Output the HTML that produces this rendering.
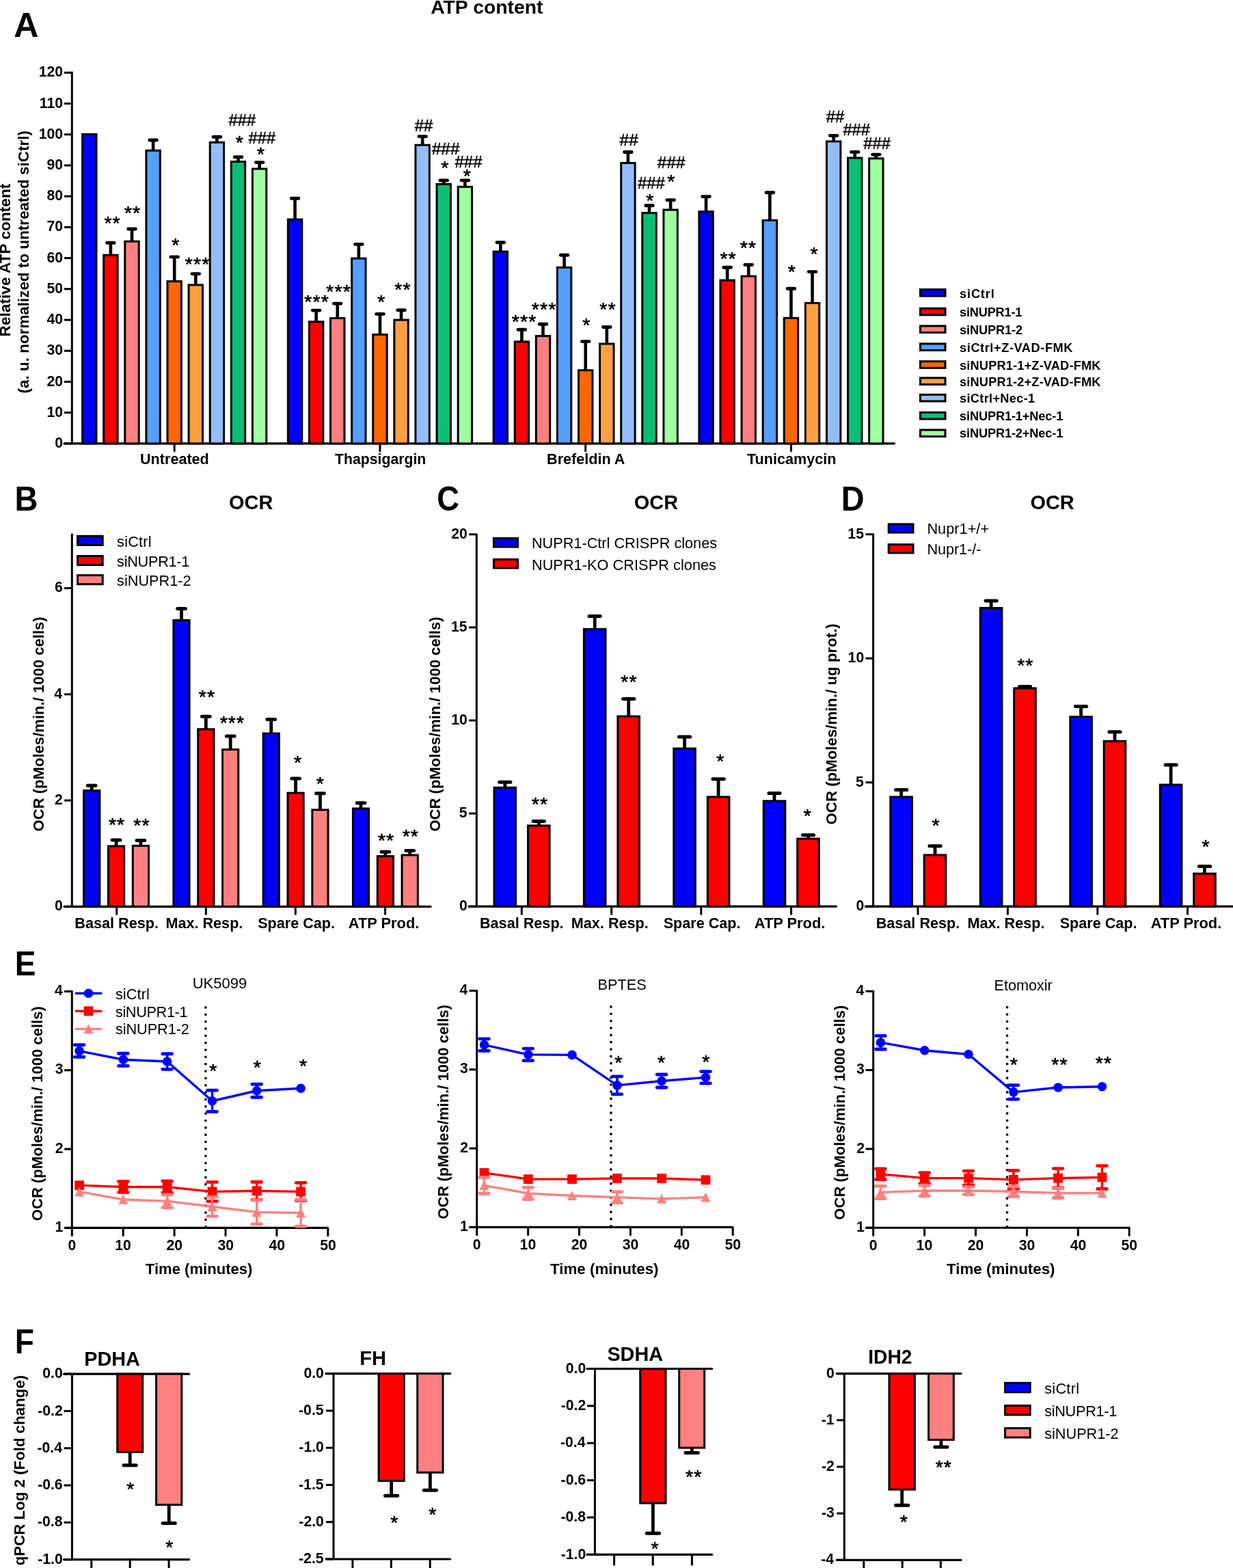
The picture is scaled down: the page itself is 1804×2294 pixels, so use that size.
<!DOCTYPE html>
<html><head><meta charset="utf-8"><title>Figure</title>
<style>html,body{margin:0;padding:0;background:#fff;}svg{display:block;}</style></head>
<body><svg xmlns="http://www.w3.org/2000/svg" width="1804" height="2294" viewBox="0 0 1804 2294" font-family="'Liberation Sans', Arial, Helvetica, sans-serif">
<rect x="0" y="0" width="1804" height="2294" fill="#fff"/>
<text x="630.19" y="20.35" font-size="28.2" font-weight="bold" textLength="164.31" lengthAdjust="spacingAndGlyphs" fill="#000">ATP content</text>
<text x="20.18" y="54.2" font-size="49.8" font-weight="bold" textLength="36.28" lengthAdjust="spacingAndGlyphs" fill="#000">A</text>
<line x1="105.3" y1="104.8" x2="105.3" y2="650.4" stroke="#000" stroke-width="3" stroke-linecap="butt"/>
<line x1="94" y1="648.9" x2="105.3" y2="648.9" stroke="#000" stroke-width="3" stroke-linecap="butt"/>
<text x="80.28" y="655" font-size="21.9" font-weight="bold" textLength="11.79" lengthAdjust="spacingAndGlyphs" fill="#000">0</text>
<line x1="94" y1="603.68" x2="105.3" y2="603.68" stroke="#000" stroke-width="3" stroke-linecap="butt"/>
<text x="68.52" y="609.78" font-size="21.9" font-weight="bold" textLength="23.58" lengthAdjust="spacingAndGlyphs" fill="#000">10</text>
<line x1="94" y1="558.47" x2="105.3" y2="558.47" stroke="#000" stroke-width="3" stroke-linecap="butt"/>
<text x="68.52" y="564.57" font-size="21.9" font-weight="bold" textLength="23.58" lengthAdjust="spacingAndGlyphs" fill="#000">20</text>
<line x1="94" y1="513.25" x2="105.3" y2="513.25" stroke="#000" stroke-width="3" stroke-linecap="butt"/>
<text x="68.52" y="519.35" font-size="21.9" font-weight="bold" textLength="23.58" lengthAdjust="spacingAndGlyphs" fill="#000">30</text>
<line x1="94" y1="468.03" x2="105.3" y2="468.03" stroke="#000" stroke-width="3" stroke-linecap="butt"/>
<text x="68.52" y="474.13" font-size="21.9" font-weight="bold" textLength="23.58" lengthAdjust="spacingAndGlyphs" fill="#000">40</text>
<line x1="94" y1="422.81" x2="105.3" y2="422.81" stroke="#000" stroke-width="3" stroke-linecap="butt"/>
<text x="68.52" y="428.91" font-size="21.9" font-weight="bold" textLength="23.58" lengthAdjust="spacingAndGlyphs" fill="#000">50</text>
<line x1="94" y1="377.6" x2="105.3" y2="377.6" stroke="#000" stroke-width="3" stroke-linecap="butt"/>
<text x="68.52" y="383.7" font-size="21.9" font-weight="bold" textLength="23.58" lengthAdjust="spacingAndGlyphs" fill="#000">60</text>
<line x1="94" y1="332.38" x2="105.3" y2="332.38" stroke="#000" stroke-width="3" stroke-linecap="butt"/>
<text x="68.52" y="338.48" font-size="21.9" font-weight="bold" textLength="23.58" lengthAdjust="spacingAndGlyphs" fill="#000">70</text>
<line x1="94" y1="287.16" x2="105.3" y2="287.16" stroke="#000" stroke-width="3" stroke-linecap="butt"/>
<text x="68.52" y="293.26" font-size="21.9" font-weight="bold" textLength="23.58" lengthAdjust="spacingAndGlyphs" fill="#000">80</text>
<line x1="94" y1="241.95" x2="105.3" y2="241.95" stroke="#000" stroke-width="3" stroke-linecap="butt"/>
<text x="68.52" y="248.05" font-size="21.9" font-weight="bold" textLength="23.58" lengthAdjust="spacingAndGlyphs" fill="#000">90</text>
<line x1="94" y1="196.73" x2="105.3" y2="196.73" stroke="#000" stroke-width="3" stroke-linecap="butt"/>
<text x="56.7" y="202.83" font-size="21.9" font-weight="bold" textLength="35.37" lengthAdjust="spacingAndGlyphs" fill="#000">100</text>
<line x1="94" y1="151.51" x2="105.3" y2="151.51" stroke="#000" stroke-width="3" stroke-linecap="butt"/>
<text x="57.86" y="157.61" font-size="21.9" font-weight="bold" textLength="34.2" lengthAdjust="spacingAndGlyphs" fill="#000">110</text>
<line x1="94" y1="106.3" x2="105.3" y2="106.3" stroke="#000" stroke-width="3" stroke-linecap="butt"/>
<text x="56.7" y="112.4" font-size="21.9" font-weight="bold" textLength="35.37" lengthAdjust="spacingAndGlyphs" fill="#000">120</text>
<line x1="94" y1="648.9" x2="1308.5" y2="648.9" stroke="#000" stroke-width="3.2" stroke-linecap="round"/>
<text x="15.2" y="492.43" font-size="22.6" font-weight="bold" textLength="223.82" lengthAdjust="spacingAndGlyphs" fill="#000" transform="rotate(-90 15.2 492.43)">Relative ATP content</text>
<text x="41.8" y="575.51" font-size="22.3" font-weight="bold" textLength="384.45" lengthAdjust="spacing" fill="#000" transform="rotate(-90 41.8 575.51)">(a. u. normalized to untreated siCtrl)</text>
<line x1="255.2" y1="648.9" x2="255.2" y2="659.7" stroke="#000" stroke-width="3" stroke-linecap="round"/>
<text x="205" y="679.2" font-size="21.6" font-weight="bold" textLength="100.8" lengthAdjust="spacingAndGlyphs" fill="#000">Untreated</text>
<rect x="120.6" y="196.4" width="20.4" height="452.5" fill="#0000FF" stroke="#000" stroke-width="3"/>
<rect x="151.7" y="373.2" width="20.4" height="275.7" fill="#FF0000" stroke="#000" stroke-width="3"/>
<line x1="161.9" y1="373.2" x2="161.9" y2="355.3" stroke="#000" stroke-width="4.6" stroke-linecap="butt"/>
<line x1="156.6" y1="355.3" x2="167.2" y2="355.3" stroke="#000" stroke-width="4.9" stroke-linecap="round"/>
<rect x="182.8" y="353.2" width="20.4" height="295.7" fill="#FF8080" stroke="#000" stroke-width="3"/>
<line x1="193" y1="353.2" x2="193" y2="335" stroke="#000" stroke-width="4.6" stroke-linecap="butt"/>
<line x1="187.7" y1="335" x2="198.3" y2="335" stroke="#000" stroke-width="4.9" stroke-linecap="round"/>
<rect x="213.9" y="220.2" width="20.4" height="428.7" fill="#559FFF" stroke="#000" stroke-width="3"/>
<line x1="224.1" y1="220.2" x2="224.1" y2="205" stroke="#000" stroke-width="4.6" stroke-linecap="butt"/>
<line x1="218.8" y1="205" x2="229.4" y2="205" stroke="#000" stroke-width="4.9" stroke-linecap="round"/>
<rect x="245" y="411.6" width="20.4" height="237.3" fill="#FF6600" stroke="#000" stroke-width="3"/>
<line x1="255.2" y1="411.6" x2="255.2" y2="375.9" stroke="#000" stroke-width="4.6" stroke-linecap="butt"/>
<line x1="249.9" y1="375.9" x2="260.5" y2="375.9" stroke="#000" stroke-width="4.9" stroke-linecap="round"/>
<rect x="276.1" y="416.9" width="20.4" height="232" fill="#FFA040" stroke="#000" stroke-width="3"/>
<line x1="286.3" y1="416.9" x2="286.3" y2="400.6" stroke="#000" stroke-width="4.6" stroke-linecap="butt"/>
<line x1="281" y1="400.6" x2="291.6" y2="400.6" stroke="#000" stroke-width="4.9" stroke-linecap="round"/>
<rect x="307.2" y="208.3" width="20.4" height="440.6" fill="#94BEFA" stroke="#000" stroke-width="3"/>
<line x1="317.4" y1="208.3" x2="317.4" y2="200.2" stroke="#000" stroke-width="4.6" stroke-linecap="butt"/>
<line x1="312.1" y1="200.2" x2="322.7" y2="200.2" stroke="#000" stroke-width="4.9" stroke-linecap="round"/>
<rect x="338.3" y="236.5" width="20.4" height="412.4" fill="#08BF76" stroke="#000" stroke-width="3"/>
<line x1="348.5" y1="236.5" x2="348.5" y2="229.7" stroke="#000" stroke-width="4.6" stroke-linecap="butt"/>
<line x1="343.2" y1="229.7" x2="353.8" y2="229.7" stroke="#000" stroke-width="4.9" stroke-linecap="round"/>
<rect x="369.4" y="247" width="20.4" height="401.9" fill="#A0FFA0" stroke="#000" stroke-width="3"/>
<line x1="379.6" y1="247" x2="379.6" y2="237.6" stroke="#000" stroke-width="4.6" stroke-linecap="butt"/>
<line x1="374.3" y1="237.6" x2="384.9" y2="237.6" stroke="#000" stroke-width="4.9" stroke-linecap="round"/>
<line x1="555.95" y1="648.9" x2="555.95" y2="659.7" stroke="#000" stroke-width="3" stroke-linecap="round"/>
<text x="490.09" y="679.2" font-size="21.6" font-weight="bold" textLength="133.21" lengthAdjust="spacingAndGlyphs" fill="#000">Thapsigargin</text>
<rect x="421.35" y="321" width="20.4" height="327.9" fill="#0000FF" stroke="#000" stroke-width="3"/>
<line x1="431.55" y1="321" x2="431.55" y2="290.2" stroke="#000" stroke-width="4.6" stroke-linecap="butt"/>
<line x1="426.25" y1="290.2" x2="436.85" y2="290.2" stroke="#000" stroke-width="4.9" stroke-linecap="round"/>
<rect x="452.45" y="470.7" width="20.4" height="178.2" fill="#FF0000" stroke="#000" stroke-width="3"/>
<line x1="462.65" y1="470.7" x2="462.65" y2="454.1" stroke="#000" stroke-width="4.6" stroke-linecap="butt"/>
<line x1="457.35" y1="454.1" x2="467.95" y2="454.1" stroke="#000" stroke-width="4.9" stroke-linecap="round"/>
<rect x="483.55" y="465.5" width="20.4" height="183.4" fill="#FF8080" stroke="#000" stroke-width="3"/>
<line x1="493.75" y1="465.5" x2="493.75" y2="444.1" stroke="#000" stroke-width="4.6" stroke-linecap="butt"/>
<line x1="488.45" y1="444.1" x2="499.05" y2="444.1" stroke="#000" stroke-width="4.9" stroke-linecap="round"/>
<rect x="514.65" y="378.1" width="20.4" height="270.8" fill="#559FFF" stroke="#000" stroke-width="3"/>
<line x1="524.85" y1="378.1" x2="524.85" y2="357.4" stroke="#000" stroke-width="4.6" stroke-linecap="butt"/>
<line x1="519.55" y1="357.4" x2="530.15" y2="357.4" stroke="#000" stroke-width="4.9" stroke-linecap="round"/>
<rect x="545.75" y="489.5" width="20.4" height="159.4" fill="#FF6600" stroke="#000" stroke-width="3"/>
<line x1="555.95" y1="489.5" x2="555.95" y2="459.4" stroke="#000" stroke-width="4.6" stroke-linecap="butt"/>
<line x1="550.65" y1="459.4" x2="561.25" y2="459.4" stroke="#000" stroke-width="4.9" stroke-linecap="round"/>
<rect x="576.85" y="468.1" width="20.4" height="180.8" fill="#FFA040" stroke="#000" stroke-width="3"/>
<line x1="587.05" y1="468.1" x2="587.05" y2="453.8" stroke="#000" stroke-width="4.6" stroke-linecap="butt"/>
<line x1="581.75" y1="453.8" x2="592.35" y2="453.8" stroke="#000" stroke-width="4.9" stroke-linecap="round"/>
<rect x="607.95" y="212.2" width="20.4" height="436.7" fill="#94BEFA" stroke="#000" stroke-width="3"/>
<line x1="618.15" y1="212.2" x2="618.15" y2="199.6" stroke="#000" stroke-width="4.6" stroke-linecap="butt"/>
<line x1="612.85" y1="199.6" x2="623.45" y2="199.6" stroke="#000" stroke-width="4.9" stroke-linecap="round"/>
<rect x="639.05" y="269.3" width="20.4" height="379.6" fill="#08BF76" stroke="#000" stroke-width="3"/>
<line x1="649.25" y1="269.3" x2="649.25" y2="263.9" stroke="#000" stroke-width="4.6" stroke-linecap="butt"/>
<line x1="643.95" y1="263.9" x2="654.55" y2="263.9" stroke="#000" stroke-width="4.9" stroke-linecap="round"/>
<rect x="670.15" y="273.3" width="20.4" height="375.6" fill="#A0FFA0" stroke="#000" stroke-width="3"/>
<line x1="680.35" y1="273.3" x2="680.35" y2="263.9" stroke="#000" stroke-width="4.6" stroke-linecap="butt"/>
<line x1="675.05" y1="263.9" x2="685.65" y2="263.9" stroke="#000" stroke-width="4.9" stroke-linecap="round"/>
<line x1="856.7" y1="648.9" x2="856.7" y2="659.7" stroke="#000" stroke-width="3" stroke-linecap="round"/>
<text x="800.04" y="679.2" font-size="21.6" font-weight="bold" textLength="114.44" lengthAdjust="spacingAndGlyphs" fill="#000">Brefeldin A</text>
<rect x="722.1" y="368.1" width="20.4" height="280.8" fill="#0000FF" stroke="#000" stroke-width="3"/>
<line x1="732.3" y1="368.1" x2="732.3" y2="354.8" stroke="#000" stroke-width="4.6" stroke-linecap="butt"/>
<line x1="727" y1="354.8" x2="737.6" y2="354.8" stroke="#000" stroke-width="4.9" stroke-linecap="round"/>
<rect x="753.2" y="499.9" width="20.4" height="149" fill="#FF0000" stroke="#000" stroke-width="3"/>
<line x1="763.4" y1="499.9" x2="763.4" y2="482.2" stroke="#000" stroke-width="4.6" stroke-linecap="butt"/>
<line x1="758.1" y1="482.2" x2="768.7" y2="482.2" stroke="#000" stroke-width="4.9" stroke-linecap="round"/>
<rect x="784.3" y="491.6" width="20.4" height="157.3" fill="#FF8080" stroke="#000" stroke-width="3"/>
<line x1="794.5" y1="491.6" x2="794.5" y2="474.3" stroke="#000" stroke-width="4.6" stroke-linecap="butt"/>
<line x1="789.2" y1="474.3" x2="799.8" y2="474.3" stroke="#000" stroke-width="4.9" stroke-linecap="round"/>
<rect x="815.4" y="391.3" width="20.4" height="257.6" fill="#559FFF" stroke="#000" stroke-width="3"/>
<line x1="825.6" y1="391.3" x2="825.6" y2="373.2" stroke="#000" stroke-width="4.6" stroke-linecap="butt"/>
<line x1="820.3" y1="373.2" x2="830.9" y2="373.2" stroke="#000" stroke-width="4.9" stroke-linecap="round"/>
<rect x="846.5" y="541.7" width="20.4" height="107.2" fill="#FF6600" stroke="#000" stroke-width="3"/>
<line x1="856.7" y1="541.7" x2="856.7" y2="499.6" stroke="#000" stroke-width="4.6" stroke-linecap="butt"/>
<line x1="851.4" y1="499.6" x2="862" y2="499.6" stroke="#000" stroke-width="4.9" stroke-linecap="round"/>
<rect x="877.6" y="503" width="20.4" height="145.9" fill="#FFA040" stroke="#000" stroke-width="3"/>
<line x1="887.8" y1="503" x2="887.8" y2="478.5" stroke="#000" stroke-width="4.6" stroke-linecap="butt"/>
<line x1="882.5" y1="478.5" x2="893.1" y2="478.5" stroke="#000" stroke-width="4.9" stroke-linecap="round"/>
<rect x="908.7" y="238.5" width="20.4" height="410.4" fill="#94BEFA" stroke="#000" stroke-width="3"/>
<line x1="918.9" y1="238.5" x2="918.9" y2="222.5" stroke="#000" stroke-width="4.6" stroke-linecap="butt"/>
<line x1="913.6" y1="222.5" x2="924.2" y2="222.5" stroke="#000" stroke-width="4.9" stroke-linecap="round"/>
<rect x="939.8" y="311.5" width="20.4" height="337.4" fill="#08BF76" stroke="#000" stroke-width="3"/>
<line x1="950" y1="311.5" x2="950" y2="300.8" stroke="#000" stroke-width="4.6" stroke-linecap="butt"/>
<line x1="944.7" y1="300.8" x2="955.3" y2="300.8" stroke="#000" stroke-width="4.9" stroke-linecap="round"/>
<rect x="970.9" y="307" width="20.4" height="341.9" fill="#A0FFA0" stroke="#000" stroke-width="3"/>
<line x1="981.1" y1="307" x2="981.1" y2="292.6" stroke="#000" stroke-width="4.6" stroke-linecap="butt"/>
<line x1="975.8" y1="292.6" x2="986.4" y2="292.6" stroke="#000" stroke-width="4.9" stroke-linecap="round"/>
<line x1="1157.45" y1="648.9" x2="1157.45" y2="659.7" stroke="#000" stroke-width="3" stroke-linecap="round"/>
<text x="1092.98" y="679.2" font-size="21.6" font-weight="bold" textLength="130.54" lengthAdjust="spacingAndGlyphs" fill="#000">Tunicamycin</text>
<rect x="1022.85" y="309.6" width="20.4" height="339.3" fill="#0000FF" stroke="#000" stroke-width="3"/>
<line x1="1033.05" y1="309.6" x2="1033.05" y2="287.6" stroke="#000" stroke-width="4.6" stroke-linecap="butt"/>
<line x1="1027.75" y1="287.6" x2="1038.35" y2="287.6" stroke="#000" stroke-width="4.9" stroke-linecap="round"/>
<rect x="1053.95" y="410" width="20.4" height="238.9" fill="#FF0000" stroke="#000" stroke-width="3"/>
<line x1="1064.15" y1="410" x2="1064.15" y2="391.2" stroke="#000" stroke-width="4.6" stroke-linecap="butt"/>
<line x1="1058.85" y1="391.2" x2="1069.45" y2="391.2" stroke="#000" stroke-width="4.9" stroke-linecap="round"/>
<rect x="1085.05" y="404.1" width="20.4" height="244.8" fill="#FF8080" stroke="#000" stroke-width="3"/>
<line x1="1095.25" y1="404.1" x2="1095.25" y2="387.4" stroke="#000" stroke-width="4.6" stroke-linecap="butt"/>
<line x1="1089.95" y1="387.4" x2="1100.55" y2="387.4" stroke="#000" stroke-width="4.9" stroke-linecap="round"/>
<rect x="1116.15" y="322.3" width="20.4" height="326.6" fill="#559FFF" stroke="#000" stroke-width="3"/>
<line x1="1126.35" y1="322.3" x2="1126.35" y2="281.8" stroke="#000" stroke-width="4.6" stroke-linecap="butt"/>
<line x1="1121.05" y1="281.8" x2="1131.65" y2="281.8" stroke="#000" stroke-width="4.9" stroke-linecap="round"/>
<rect x="1147.25" y="465.3" width="20.4" height="183.6" fill="#FF6600" stroke="#000" stroke-width="3"/>
<line x1="1157.45" y1="465.3" x2="1157.45" y2="422.2" stroke="#000" stroke-width="4.6" stroke-linecap="butt"/>
<line x1="1152.15" y1="422.2" x2="1162.75" y2="422.2" stroke="#000" stroke-width="4.9" stroke-linecap="round"/>
<rect x="1178.35" y="443.4" width="20.4" height="205.5" fill="#FFA040" stroke="#000" stroke-width="3"/>
<line x1="1188.55" y1="443.4" x2="1188.55" y2="397.6" stroke="#000" stroke-width="4.6" stroke-linecap="butt"/>
<line x1="1183.25" y1="397.6" x2="1193.85" y2="397.6" stroke="#000" stroke-width="4.9" stroke-linecap="round"/>
<rect x="1209.45" y="206.9" width="20.4" height="442" fill="#94BEFA" stroke="#000" stroke-width="3"/>
<line x1="1219.65" y1="206.9" x2="1219.65" y2="198.4" stroke="#000" stroke-width="4.6" stroke-linecap="butt"/>
<line x1="1214.35" y1="198.4" x2="1224.95" y2="198.4" stroke="#000" stroke-width="4.9" stroke-linecap="round"/>
<rect x="1240.55" y="231" width="20.4" height="417.9" fill="#08BF76" stroke="#000" stroke-width="3"/>
<line x1="1250.75" y1="231" x2="1250.75" y2="222.4" stroke="#000" stroke-width="4.6" stroke-linecap="butt"/>
<line x1="1245.45" y1="222.4" x2="1256.05" y2="222.4" stroke="#000" stroke-width="4.9" stroke-linecap="round"/>
<rect x="1271.65" y="231.8" width="20.4" height="417.1" fill="#A0FFA0" stroke="#000" stroke-width="3"/>
<line x1="1281.85" y1="231.8" x2="1281.85" y2="226.1" stroke="#000" stroke-width="4.6" stroke-linecap="butt"/>
<line x1="1276.55" y1="226.1" x2="1287.15" y2="226.1" stroke="#000" stroke-width="4.9" stroke-linecap="round"/>
<text x="152.45" y="335.69" font-size="28.5" textLength="23.25" lengthAdjust="spacing" fill="#000" stroke="#000" stroke-width="0.6" stroke-linejoin="round">**</text>
<text x="181.95" y="321.29" font-size="28.5" textLength="23.25" lengthAdjust="spacing" fill="#000" stroke="#000" stroke-width="0.6" stroke-linejoin="round">**</text>
<text x="251.35" y="368.29" font-size="28.5" textLength="11.07" lengthAdjust="spacing" fill="#000" stroke="#000" stroke-width="0.6" stroke-linejoin="round">*</text>
<text x="270.75" y="395.99" font-size="28.5" textLength="35.5" lengthAdjust="spacing" fill="#000" stroke="#000" stroke-width="0.6" stroke-linejoin="round">***</text>
<text x="344.85" y="218.49" font-size="28.5" textLength="11.07" lengthAdjust="spacing" fill="#000" stroke="#000" stroke-width="0.6" stroke-linejoin="round">*</text>
<text x="375.95" y="235.09" font-size="28.5" textLength="11.07" lengthAdjust="spacing" fill="#000" stroke="#000" stroke-width="0.6" stroke-linejoin="round">*</text>
<text x="445.25" y="450.59" font-size="28.5" textLength="35.5" lengthAdjust="spacing" fill="#000" stroke="#000" stroke-width="0.6" stroke-linejoin="round">***</text>
<text x="477.25" y="436.09" font-size="28.5" textLength="35.5" lengthAdjust="spacing" fill="#000" stroke="#000" stroke-width="0.6" stroke-linejoin="round">***</text>
<text x="552.35" y="450.59" font-size="28.5" textLength="11.07" lengthAdjust="spacing" fill="#000" stroke="#000" stroke-width="0.6" stroke-linejoin="round">*</text>
<text x="577.35" y="432.99" font-size="28.5" textLength="23.25" lengthAdjust="spacing" fill="#000" stroke="#000" stroke-width="0.6" stroke-linejoin="round">**</text>
<text x="645.25" y="255.29" font-size="28.5" textLength="11.07" lengthAdjust="spacing" fill="#000" stroke="#000" stroke-width="0.6" stroke-linejoin="round">*</text>
<text x="677.65" y="267.09" font-size="28.5" textLength="11.07" lengthAdjust="spacing" fill="#000" stroke="#000" stroke-width="0.6" stroke-linejoin="round">*</text>
<text x="748.75" y="480.19" font-size="28.5" textLength="35.5" lengthAdjust="spacing" fill="#000" stroke="#000" stroke-width="0.6" stroke-linejoin="round">***</text>
<text x="777.75" y="461.79" font-size="28.5" textLength="35.5" lengthAdjust="spacing" fill="#000" stroke="#000" stroke-width="0.6" stroke-linejoin="round">***</text>
<text x="852.35" y="484.89" font-size="28.5" textLength="11.07" lengthAdjust="spacing" fill="#000" stroke="#000" stroke-width="0.6" stroke-linejoin="round">*</text>
<text x="877.35" y="462.29" font-size="28.5" textLength="23.25" lengthAdjust="spacing" fill="#000" stroke="#000" stroke-width="0.6" stroke-linejoin="round">**</text>
<text x="945.15" y="302.69" font-size="28.5" textLength="11.07" lengthAdjust="spacing" fill="#000" stroke="#000" stroke-width="0.6" stroke-linejoin="round">*</text>
<text x="976.25" y="274.99" font-size="28.5" textLength="11.07" lengthAdjust="spacing" fill="#000" stroke="#000" stroke-width="0.6" stroke-linejoin="round">*</text>
<text x="1053.45" y="387.69" font-size="28.5" textLength="23.25" lengthAdjust="spacing" fill="#000" stroke="#000" stroke-width="0.6" stroke-linejoin="round">**</text>
<text x="1082.65" y="371.89" font-size="28.5" textLength="23.25" lengthAdjust="spacing" fill="#000" stroke="#000" stroke-width="0.6" stroke-linejoin="round">**</text>
<text x="1152.65" y="406.99" font-size="28.5" textLength="11.07" lengthAdjust="spacing" fill="#000" stroke="#000" stroke-width="0.6" stroke-linejoin="round">*</text>
<text x="1185.45" y="380.89" font-size="28.5" textLength="11.07" lengthAdjust="spacing" fill="#000" stroke="#000" stroke-width="0.6" stroke-linejoin="round">*</text>
<text x="334.48" y="183.8" font-size="24" textLength="39.7" lengthAdjust="spacingAndGlyphs" fill="#000" stroke="#000" stroke-width="0.5" stroke-linejoin="round">###</text>
<text x="363.48" y="210.2" font-size="24" textLength="39.7" lengthAdjust="spacingAndGlyphs" fill="#000" stroke="#000" stroke-width="0.5" stroke-linejoin="round">###</text>
<text x="606.68" y="191.6" font-size="24" textLength="26.64" lengthAdjust="spacingAndGlyphs" fill="#000" stroke="#000" stroke-width="0.5" stroke-linejoin="round">##</text>
<text x="631.68" y="225.8" font-size="24" textLength="41.11" lengthAdjust="spacingAndGlyphs" fill="#000" stroke="#000" stroke-width="0.5" stroke-linejoin="round">###</text>
<text x="665.48" y="245.1" font-size="24" textLength="40.21" lengthAdjust="spacingAndGlyphs" fill="#000" stroke="#000" stroke-width="0.5" stroke-linejoin="round">###</text>
<text x="906.58" y="212.7" font-size="24" textLength="27.34" lengthAdjust="spacingAndGlyphs" fill="#000" stroke="#000" stroke-width="0.5" stroke-linejoin="round">##</text>
<text x="932.88" y="275.9" font-size="24" textLength="39.8" lengthAdjust="spacingAndGlyphs" fill="#000" stroke="#000" stroke-width="0.5" stroke-linejoin="round">###</text>
<text x="961.88" y="246.4" font-size="24" textLength="40.51" lengthAdjust="spacingAndGlyphs" fill="#000" stroke="#000" stroke-width="0.5" stroke-linejoin="round">###</text>
<text x="1208.78" y="178.9" font-size="24" textLength="26.64" lengthAdjust="spacingAndGlyphs" fill="#000" stroke="#000" stroke-width="0.5" stroke-linejoin="round">##</text>
<text x="1233.38" y="198.2" font-size="24" textLength="39.7" lengthAdjust="spacingAndGlyphs" fill="#000" stroke="#000" stroke-width="0.5" stroke-linejoin="round">###</text>
<text x="1263.28" y="218.4" font-size="24" textLength="39.7" lengthAdjust="spacingAndGlyphs" fill="#000" stroke="#000" stroke-width="0.5" stroke-linejoin="round">###</text>
<rect x="1346.5" y="423.5" width="36.5" height="9.6" fill="#0000FF" stroke="#000" stroke-width="3"/>
<text x="1404.06" y="435.7" font-size="18.2" font-weight="bold" textLength="50.63" lengthAdjust="spacing" fill="#000">siCtrl</text>
<rect x="1346.5" y="451.2" width="36.5" height="9.6" fill="#FF0000" stroke="#000" stroke-width="3"/>
<text x="1404.06" y="462.7" font-size="18.2" font-weight="bold" textLength="91.35" lengthAdjust="spacing" fill="#000">siNUPR1-1</text>
<rect x="1346.5" y="476.9" width="36.5" height="9.6" fill="#FF8080" stroke="#000" stroke-width="3"/>
<text x="1404.06" y="488.7" font-size="18.2" font-weight="bold" textLength="92.13" lengthAdjust="spacing" fill="#000">siNUPR1-2</text>
<rect x="1346.5" y="502.9" width="36.5" height="9.6" fill="#559FFF" stroke="#000" stroke-width="3"/>
<text x="1404.06" y="514.5" font-size="18.2" font-weight="bold" textLength="165.42" lengthAdjust="spacing" fill="#000">siCtrl+Z-VAD-FMK</text>
<rect x="1346.5" y="528.7" width="36.5" height="9.6" fill="#FF6600" stroke="#000" stroke-width="3"/>
<text x="1404.06" y="540.5" font-size="18.2" font-weight="bold" textLength="206.31" lengthAdjust="spacing" fill="#000">siNUPR1-1+Z-VAD-FMK</text>
<rect x="1346.5" y="552.9" width="36.5" height="9.6" fill="#FFA040" stroke="#000" stroke-width="3"/>
<text x="1404.06" y="564.6" font-size="18.2" font-weight="bold" textLength="206.31" lengthAdjust="spacing" fill="#000">siNUPR1-2+Z-VAD-FMK</text>
<rect x="1346.5" y="577.4" width="36.5" height="9.6" fill="#94BEFA" stroke="#000" stroke-width="3"/>
<text x="1404.06" y="589.2" font-size="18.2" font-weight="bold" textLength="110.06" lengthAdjust="spacing" fill="#000">siCtrl+Nec-1</text>
<rect x="1346.5" y="603.4" width="36.5" height="9.6" fill="#08BF76" stroke="#000" stroke-width="3"/>
<text x="1404.06" y="614.6" font-size="18.2" font-weight="bold" textLength="151.25" lengthAdjust="spacing" fill="#000">siNUPR1-1+Nec-1</text>
<rect x="1346.5" y="629" width="36.5" height="9.6" fill="#A0FFA0" stroke="#000" stroke-width="3"/>
<text x="1404.06" y="640.3" font-size="18.2" font-weight="bold" textLength="151.25" lengthAdjust="spacing" fill="#000">siNUPR1-2+Nec-1</text>
<text x="21.49" y="747.1" font-size="49.5" font-weight="bold" textLength="33.97" lengthAdjust="spacingAndGlyphs" fill="#000">B</text>
<text x="335.04" y="745.4" font-size="29.3" font-weight="bold" textLength="64.3" lengthAdjust="spacingAndGlyphs" fill="#000">OCR</text>
<line x1="105.3" y1="781.7" x2="105.3" y2="1326.3" stroke="#000" stroke-width="3" stroke-linecap="round"/>
<line x1="94.1" y1="1326.3" x2="105.3" y2="1326.3" stroke="#000" stroke-width="3" stroke-linecap="butt"/>
<text x="80.08" y="1332.1" font-size="21.8" font-weight="bold" textLength="11.79" lengthAdjust="spacingAndGlyphs" fill="#000">0</text>
<line x1="94.1" y1="1171.04" x2="105.3" y2="1171.04" stroke="#000" stroke-width="3" stroke-linecap="butt"/>
<text x="80.03" y="1176.84" font-size="21.8" font-weight="bold" textLength="11.79" lengthAdjust="spacingAndGlyphs" fill="#000">2</text>
<line x1="94.1" y1="1015.78" x2="105.3" y2="1015.78" stroke="#000" stroke-width="3" stroke-linecap="butt"/>
<text x="79.34" y="1021.58" font-size="21.8" font-weight="bold" textLength="11.79" lengthAdjust="spacingAndGlyphs" fill="#000">4</text>
<line x1="94.1" y1="860.52" x2="105.3" y2="860.52" stroke="#000" stroke-width="3" stroke-linecap="butt"/>
<text x="79.98" y="866.32" font-size="21.8" font-weight="bold" textLength="11.79" lengthAdjust="spacingAndGlyphs" fill="#000">6</text>
<line x1="94.1" y1="1326.3" x2="630" y2="1326.3" stroke="#000" stroke-width="3.2" stroke-linecap="round"/>
<line x1="170.7" y1="1326.3" x2="170.7" y2="1337.3" stroke="#000" stroke-width="3" stroke-linecap="round"/>
<text x="109.34" y="1357.5" font-size="21.6" font-weight="bold" textLength="122.71" lengthAdjust="spacingAndGlyphs" fill="#000">Basal Resp.</text>
<line x1="301.3" y1="1326.3" x2="301.3" y2="1337.3" stroke="#000" stroke-width="3" stroke-linecap="round"/>
<text x="242.44" y="1357.5" font-size="21.6" font-weight="bold" textLength="112.9" lengthAdjust="spacingAndGlyphs" fill="#000">Max. Resp.</text>
<line x1="432.3" y1="1326.3" x2="432.3" y2="1337.3" stroke="#000" stroke-width="3" stroke-linecap="round"/>
<text x="377.15" y="1357.5" font-size="21.6" font-weight="bold" textLength="112.79" lengthAdjust="spacingAndGlyphs" fill="#000">Spare Cap.</text>
<line x1="563.6" y1="1326.3" x2="563.6" y2="1337.3" stroke="#000" stroke-width="3" stroke-linecap="round"/>
<text x="509.75" y="1357.5" font-size="21.6" font-weight="bold" textLength="103.65" lengthAdjust="spacingAndGlyphs" fill="#000">ATP Prod.</text>
<rect x="122.6" y="1156.6" width="23.2" height="169.7" fill="#0000FF" stroke="#000" stroke-width="3"/>
<line x1="134.2" y1="1156.6" x2="134.2" y2="1149.3" stroke="#000" stroke-width="4.8" stroke-linecap="butt"/>
<line x1="128.35" y1="1149.3" x2="140.05" y2="1149.3" stroke="#000" stroke-width="5" stroke-linecap="round"/>
<rect x="158.45" y="1237.9" width="23.2" height="88.4" fill="#FF0000" stroke="#000" stroke-width="3"/>
<line x1="170.05" y1="1237.9" x2="170.05" y2="1228.9" stroke="#000" stroke-width="4.8" stroke-linecap="butt"/>
<line x1="164.2" y1="1228.9" x2="175.9" y2="1228.9" stroke="#000" stroke-width="5" stroke-linecap="round"/>
<rect x="194.3" y="1237.4" width="23.2" height="88.9" fill="#FF8080" stroke="#000" stroke-width="3"/>
<line x1="205.9" y1="1237.4" x2="205.9" y2="1229.5" stroke="#000" stroke-width="4.8" stroke-linecap="butt"/>
<line x1="200.05" y1="1229.5" x2="211.75" y2="1229.5" stroke="#000" stroke-width="5" stroke-linecap="round"/>
<rect x="253.87" y="907.3" width="23.2" height="419" fill="#0000FF" stroke="#000" stroke-width="3"/>
<line x1="265.47" y1="907.3" x2="265.47" y2="890.6" stroke="#000" stroke-width="4.8" stroke-linecap="butt"/>
<line x1="259.62" y1="890.6" x2="271.32" y2="890.6" stroke="#000" stroke-width="5" stroke-linecap="round"/>
<rect x="289.72" y="1066.8" width="23.2" height="259.5" fill="#FF0000" stroke="#000" stroke-width="3"/>
<line x1="301.32" y1="1066.8" x2="301.32" y2="1048.3" stroke="#000" stroke-width="4.8" stroke-linecap="butt"/>
<line x1="295.47" y1="1048.3" x2="307.17" y2="1048.3" stroke="#000" stroke-width="5" stroke-linecap="round"/>
<rect x="325.57" y="1096.6" width="23.2" height="229.7" fill="#FF8080" stroke="#000" stroke-width="3"/>
<line x1="337.17" y1="1096.6" x2="337.17" y2="1077" stroke="#000" stroke-width="4.8" stroke-linecap="butt"/>
<line x1="331.32" y1="1077" x2="343.02" y2="1077" stroke="#000" stroke-width="5" stroke-linecap="round"/>
<rect x="385.14" y="1073" width="23.2" height="253.3" fill="#0000FF" stroke="#000" stroke-width="3"/>
<line x1="396.74" y1="1073" x2="396.74" y2="1052.6" stroke="#000" stroke-width="4.8" stroke-linecap="butt"/>
<line x1="390.89" y1="1052.6" x2="402.59" y2="1052.6" stroke="#000" stroke-width="5" stroke-linecap="round"/>
<rect x="420.99" y="1160.1" width="23.2" height="166.2" fill="#FF0000" stroke="#000" stroke-width="3"/>
<line x1="432.59" y1="1160.1" x2="432.59" y2="1139" stroke="#000" stroke-width="4.8" stroke-linecap="butt"/>
<line x1="426.74" y1="1139" x2="438.44" y2="1139" stroke="#000" stroke-width="5" stroke-linecap="round"/>
<rect x="456.84" y="1184.8" width="23.2" height="141.5" fill="#FF8080" stroke="#000" stroke-width="3"/>
<line x1="468.44" y1="1184.8" x2="468.44" y2="1160.8" stroke="#000" stroke-width="4.8" stroke-linecap="butt"/>
<line x1="462.59" y1="1160.8" x2="474.29" y2="1160.8" stroke="#000" stroke-width="5" stroke-linecap="round"/>
<rect x="516.41" y="1182.9" width="23.2" height="143.4" fill="#0000FF" stroke="#000" stroke-width="3"/>
<line x1="528.01" y1="1182.9" x2="528.01" y2="1174.7" stroke="#000" stroke-width="4.8" stroke-linecap="butt"/>
<line x1="522.16" y1="1174.7" x2="533.86" y2="1174.7" stroke="#000" stroke-width="5" stroke-linecap="round"/>
<rect x="552.26" y="1252.6" width="23.2" height="73.7" fill="#FF0000" stroke="#000" stroke-width="3"/>
<line x1="563.86" y1="1252.6" x2="563.86" y2="1246.2" stroke="#000" stroke-width="4.8" stroke-linecap="butt"/>
<line x1="558.01" y1="1246.2" x2="569.71" y2="1246.2" stroke="#000" stroke-width="5" stroke-linecap="round"/>
<rect x="588.11" y="1251" width="23.2" height="75.3" fill="#FF8080" stroke="#000" stroke-width="3"/>
<line x1="599.71" y1="1251" x2="599.71" y2="1244.5" stroke="#000" stroke-width="4.8" stroke-linecap="butt"/>
<line x1="593.86" y1="1244.5" x2="605.56" y2="1244.5" stroke="#000" stroke-width="5" stroke-linecap="round"/>
<text x="64.2" y="1216.48" font-size="22" font-weight="bold" textLength="314.18" lengthAdjust="spacingAndGlyphs" fill="#000" transform="rotate(-90 64.2 1216.48)">OCR (pMoles/min./ 1000 cells)</text>
<rect x="113.5" y="784.3" width="36.7" height="13.1" fill="#0000FF" stroke="#000" stroke-width="3"/>
<text x="171.1" y="799.7" font-size="21.7" textLength="50.46" lengthAdjust="spacing" fill="#000">siCtrl</text>
<rect x="113.5" y="813.5" width="36.7" height="13.1" fill="#FF0000" stroke="#000" stroke-width="3"/>
<text x="171.1" y="829" font-size="21.7" textLength="106.25" lengthAdjust="spacing" fill="#000">siNUPR1-1</text>
<rect x="113.5" y="841.6" width="36.7" height="13.1" fill="#FF8080" stroke="#000" stroke-width="3"/>
<text x="171.1" y="856.8" font-size="21.7" textLength="108.51" lengthAdjust="spacing" fill="#000">siNUPR1-2</text>
<text x="158.95" y="1215.59" font-size="28.5" textLength="23.25" lengthAdjust="spacing" fill="#000" stroke="#000" stroke-width="0.6" stroke-linejoin="round">**</text>
<text x="195.25" y="1217.09" font-size="28.5" textLength="23.25" lengthAdjust="spacing" fill="#000" stroke="#000" stroke-width="0.6" stroke-linejoin="round">**</text>
<text x="290.75" y="1028.59" font-size="28.5" textLength="23.25" lengthAdjust="spacing" fill="#000" stroke="#000" stroke-width="0.6" stroke-linejoin="round">**</text>
<text x="321.65" y="1066.59" font-size="28.5" textLength="35.5" lengthAdjust="spacing" fill="#000" stroke="#000" stroke-width="0.6" stroke-linejoin="round">***</text>
<text x="430.05" y="1124.59" font-size="28.5" textLength="11.07" lengthAdjust="spacing" fill="#000" stroke="#000" stroke-width="0.6" stroke-linejoin="round">*</text>
<text x="462.65" y="1155.59" font-size="28.5" textLength="11.07" lengthAdjust="spacing" fill="#000" stroke="#000" stroke-width="0.6" stroke-linejoin="round">*</text>
<text x="552.95" y="1238.79" font-size="28.5" textLength="23.25" lengthAdjust="spacing" fill="#000" stroke="#000" stroke-width="0.6" stroke-linejoin="round">**</text>
<text x="588.65" y="1232.99" font-size="28.5" textLength="23.25" lengthAdjust="spacing" fill="#000" stroke="#000" stroke-width="0.6" stroke-linejoin="round">**</text>
<text x="639.19" y="747.1" font-size="49.5" font-weight="bold" textLength="32.75" lengthAdjust="spacingAndGlyphs" fill="#000">C</text>
<text x="927.84" y="745.4" font-size="29.3" font-weight="bold" textLength="64.3" lengthAdjust="spacingAndGlyphs" fill="#000">OCR</text>
<line x1="697.3" y1="781.8" x2="697.3" y2="1326.2" stroke="#000" stroke-width="3" stroke-linecap="round"/>
<line x1="686.1" y1="1326.2" x2="697.3" y2="1326.2" stroke="#000" stroke-width="3" stroke-linecap="butt"/>
<text x="672.08" y="1332" font-size="21.8" font-weight="bold" textLength="11.79" lengthAdjust="spacingAndGlyphs" fill="#000">0</text>
<line x1="686.1" y1="1190.1" x2="697.3" y2="1190.1" stroke="#000" stroke-width="3" stroke-linecap="butt"/>
<text x="671.82" y="1195.9" font-size="21.8" font-weight="bold" textLength="11.79" lengthAdjust="spacingAndGlyphs" fill="#000">5</text>
<line x1="686.1" y1="1054" x2="697.3" y2="1054" stroke="#000" stroke-width="3" stroke-linecap="butt"/>
<text x="660.32" y="1059.8" font-size="21.8" font-weight="bold" textLength="23.58" lengthAdjust="spacingAndGlyphs" fill="#000">10</text>
<line x1="686.1" y1="917.9" x2="697.3" y2="917.9" stroke="#000" stroke-width="3" stroke-linecap="butt"/>
<text x="660.05" y="923.7" font-size="21.8" font-weight="bold" textLength="23.58" lengthAdjust="spacingAndGlyphs" fill="#000">15</text>
<line x1="686.1" y1="781.8" x2="697.3" y2="781.8" stroke="#000" stroke-width="3" stroke-linecap="butt"/>
<text x="660.32" y="787.6" font-size="21.8" font-weight="bold" textLength="23.58" lengthAdjust="spacingAndGlyphs" fill="#000">20</text>
<line x1="686.1" y1="1326.2" x2="1223.4" y2="1326.2" stroke="#000" stroke-width="3.2" stroke-linecap="round"/>
<line x1="763.3" y1="1326.2" x2="763.3" y2="1337.2" stroke="#000" stroke-width="3" stroke-linecap="round"/>
<text x="701.94" y="1357.5" font-size="21.6" font-weight="bold" textLength="122.71" lengthAdjust="spacingAndGlyphs" fill="#000">Basal Resp.</text>
<line x1="894.7" y1="1326.2" x2="894.7" y2="1337.2" stroke="#000" stroke-width="3" stroke-linecap="round"/>
<text x="835.84" y="1357.5" font-size="21.6" font-weight="bold" textLength="112.9" lengthAdjust="spacingAndGlyphs" fill="#000">Max. Resp.</text>
<line x1="1025.8" y1="1326.2" x2="1025.8" y2="1337.2" stroke="#000" stroke-width="3" stroke-linecap="round"/>
<text x="970.65" y="1357.5" font-size="21.6" font-weight="bold" textLength="112.79" lengthAdjust="spacingAndGlyphs" fill="#000">Spare Cap.</text>
<line x1="1157.6" y1="1326.2" x2="1157.6" y2="1337.2" stroke="#000" stroke-width="3" stroke-linecap="round"/>
<text x="1103.75" y="1357.5" font-size="21.6" font-weight="bold" textLength="103.65" lengthAdjust="spacingAndGlyphs" fill="#000">ATP Prod.</text>
<rect x="723" y="1152.3" width="31.6" height="173.9" fill="#0000FF" stroke="#000" stroke-width="3"/>
<line x1="738.8" y1="1152.3" x2="738.8" y2="1144.3" stroke="#000" stroke-width="4.8" stroke-linecap="butt"/>
<line x1="730.7" y1="1144.3" x2="746.9" y2="1144.3" stroke="#000" stroke-width="5" stroke-linecap="round"/>
<rect x="772.5" y="1207.9" width="31.6" height="118.3" fill="#FF0000" stroke="#000" stroke-width="3"/>
<line x1="788.3" y1="1207.9" x2="788.3" y2="1201.5" stroke="#000" stroke-width="4.8" stroke-linecap="butt"/>
<line x1="780.2" y1="1201.5" x2="796.4" y2="1201.5" stroke="#000" stroke-width="5" stroke-linecap="round"/>
<rect x="854.4" y="920.4" width="31.6" height="405.8" fill="#0000FF" stroke="#000" stroke-width="3"/>
<line x1="870.2" y1="920.4" x2="870.2" y2="901.5" stroke="#000" stroke-width="4.8" stroke-linecap="butt"/>
<line x1="862.1" y1="901.5" x2="878.3" y2="901.5" stroke="#000" stroke-width="5" stroke-linecap="round"/>
<rect x="903.9" y="1048" width="31.6" height="278.2" fill="#FF0000" stroke="#000" stroke-width="3"/>
<line x1="919.7" y1="1048" x2="919.7" y2="1022.5" stroke="#000" stroke-width="4.8" stroke-linecap="butt"/>
<line x1="911.6" y1="1022.5" x2="927.8" y2="1022.5" stroke="#000" stroke-width="5" stroke-linecap="round"/>
<rect x="985.8" y="1095.1" width="31.6" height="231.1" fill="#0000FF" stroke="#000" stroke-width="3"/>
<line x1="1001.6" y1="1095.1" x2="1001.6" y2="1078" stroke="#000" stroke-width="4.8" stroke-linecap="butt"/>
<line x1="993.5" y1="1078" x2="1009.7" y2="1078" stroke="#000" stroke-width="5" stroke-linecap="round"/>
<rect x="1035.3" y="1165.9" width="31.6" height="160.3" fill="#FF0000" stroke="#000" stroke-width="3"/>
<line x1="1051.1" y1="1165.9" x2="1051.1" y2="1139.7" stroke="#000" stroke-width="4.8" stroke-linecap="butt"/>
<line x1="1043" y1="1139.7" x2="1059.2" y2="1139.7" stroke="#000" stroke-width="5" stroke-linecap="round"/>
<rect x="1117.2" y="1171.9" width="31.6" height="154.3" fill="#0000FF" stroke="#000" stroke-width="3"/>
<line x1="1133" y1="1171.9" x2="1133" y2="1160.6" stroke="#000" stroke-width="4.8" stroke-linecap="butt"/>
<line x1="1124.9" y1="1160.6" x2="1141.1" y2="1160.6" stroke="#000" stroke-width="5" stroke-linecap="round"/>
<rect x="1166.7" y="1227.1" width="31.6" height="99.1" fill="#FF0000" stroke="#000" stroke-width="3"/>
<line x1="1182.5" y1="1227.1" x2="1182.5" y2="1221.7" stroke="#000" stroke-width="4.8" stroke-linecap="butt"/>
<line x1="1174.4" y1="1221.7" x2="1190.6" y2="1221.7" stroke="#000" stroke-width="5" stroke-linecap="round"/>
<text x="644.1" y="1216.58" font-size="22" font-weight="bold" textLength="314.18" lengthAdjust="spacingAndGlyphs" fill="#000" transform="rotate(-90 644.1 1216.58)">OCR (pMoles/min./ 1000 cells)</text>
<rect x="722.4" y="787.5" width="35.1" height="12.6" fill="#0000FF" stroke="#000" stroke-width="3"/>
<text x="777.91" y="802.4" font-size="21.7" textLength="271.16" lengthAdjust="spacing" fill="#000">NUPR1-Ctrl CRISPR clones</text>
<rect x="722.4" y="818.4" width="35.1" height="12.6" fill="#FF0000" stroke="#000" stroke-width="3"/>
<text x="777.91" y="833.6" font-size="21.7" textLength="270.05" lengthAdjust="spacing" fill="#000">NUPR1-KO CRISPR clones</text>
<text x="777.75" y="1185.79" font-size="28.5" textLength="23.25" lengthAdjust="spacing" fill="#000" stroke="#000" stroke-width="0.6" stroke-linejoin="round">**</text>
<text x="908.35" y="1006.59" font-size="28.5" textLength="23.25" lengthAdjust="spacing" fill="#000" stroke="#000" stroke-width="0.6" stroke-linejoin="round">**</text>
<text x="1048.15" y="1122.59" font-size="28.5" textLength="11.07" lengthAdjust="spacing" fill="#000" stroke="#000" stroke-width="0.6" stroke-linejoin="round">*</text>
<text x="1175.75" y="1202.89" font-size="28.5" textLength="11.07" lengthAdjust="spacing" fill="#000" stroke="#000" stroke-width="0.6" stroke-linejoin="round">*</text>
<text x="1230.74" y="747.1" font-size="49.5" font-weight="bold" textLength="33.84" lengthAdjust="spacingAndGlyphs" fill="#000">D</text>
<text x="1507.44" y="745.4" font-size="29.3" font-weight="bold" textLength="64.3" lengthAdjust="spacingAndGlyphs" fill="#000">OCR</text>
<line x1="1277.6" y1="781.7" x2="1277.6" y2="1326.2" stroke="#000" stroke-width="3" stroke-linecap="round"/>
<line x1="1266.4" y1="1326.2" x2="1277.6" y2="1326.2" stroke="#000" stroke-width="3" stroke-linecap="butt"/>
<text x="1252.38" y="1332" font-size="21.8" font-weight="bold" textLength="11.79" lengthAdjust="spacingAndGlyphs" fill="#000">0</text>
<line x1="1266.4" y1="1144.7" x2="1277.6" y2="1144.7" stroke="#000" stroke-width="3" stroke-linecap="butt"/>
<text x="1252.12" y="1150.5" font-size="21.8" font-weight="bold" textLength="11.79" lengthAdjust="spacingAndGlyphs" fill="#000">5</text>
<line x1="1266.4" y1="963.2" x2="1277.6" y2="963.2" stroke="#000" stroke-width="3" stroke-linecap="butt"/>
<text x="1240.62" y="969" font-size="21.8" font-weight="bold" textLength="23.58" lengthAdjust="spacingAndGlyphs" fill="#000">10</text>
<line x1="1266.4" y1="781.7" x2="1277.6" y2="781.7" stroke="#000" stroke-width="3" stroke-linecap="butt"/>
<text x="1240.35" y="787.5" font-size="21.8" font-weight="bold" textLength="23.58" lengthAdjust="spacingAndGlyphs" fill="#000">15</text>
<line x1="1266.4" y1="1326.2" x2="1810" y2="1326.2" stroke="#000" stroke-width="3.2" stroke-linecap="round"/>
<line x1="1343" y1="1326.2" x2="1343" y2="1337.2" stroke="#000" stroke-width="3" stroke-linecap="round"/>
<text x="1281.64" y="1357.5" font-size="21.6" font-weight="bold" textLength="122.71" lengthAdjust="spacingAndGlyphs" fill="#000">Basal Resp.</text>
<line x1="1474.4" y1="1326.2" x2="1474.4" y2="1337.2" stroke="#000" stroke-width="3" stroke-linecap="round"/>
<text x="1415.54" y="1357.5" font-size="21.6" font-weight="bold" textLength="112.9" lengthAdjust="spacingAndGlyphs" fill="#000">Max. Resp.</text>
<line x1="1605.8" y1="1326.2" x2="1605.8" y2="1337.2" stroke="#000" stroke-width="3" stroke-linecap="round"/>
<text x="1550.65" y="1357.5" font-size="21.6" font-weight="bold" textLength="112.79" lengthAdjust="spacingAndGlyphs" fill="#000">Spare Cap.</text>
<line x1="1737.5" y1="1326.2" x2="1737.5" y2="1337.2" stroke="#000" stroke-width="3" stroke-linecap="round"/>
<text x="1683.65" y="1357.5" font-size="21.6" font-weight="bold" textLength="103.65" lengthAdjust="spacingAndGlyphs" fill="#000">ATP Prod.</text>
<rect x="1302.8" y="1165.9" width="31.6" height="160.3" fill="#0000FF" stroke="#000" stroke-width="3"/>
<line x1="1318.6" y1="1165.9" x2="1318.6" y2="1155.4" stroke="#000" stroke-width="4.8" stroke-linecap="butt"/>
<line x1="1310.5" y1="1155.4" x2="1326.7" y2="1155.4" stroke="#000" stroke-width="5" stroke-linecap="round"/>
<rect x="1352.2" y="1250.9" width="31.6" height="75.3" fill="#FF0000" stroke="#000" stroke-width="3"/>
<line x1="1368" y1="1250.9" x2="1368" y2="1237.7" stroke="#000" stroke-width="4.8" stroke-linecap="butt"/>
<line x1="1359.9" y1="1237.7" x2="1376.1" y2="1237.7" stroke="#000" stroke-width="5" stroke-linecap="round"/>
<rect x="1434.3" y="889.5" width="31.6" height="436.7" fill="#0000FF" stroke="#000" stroke-width="3"/>
<line x1="1450.1" y1="889.5" x2="1450.1" y2="879" stroke="#000" stroke-width="4.8" stroke-linecap="butt"/>
<line x1="1442" y1="879" x2="1458.2" y2="879" stroke="#000" stroke-width="5" stroke-linecap="round"/>
<rect x="1483.7" y="1006.9" width="31.6" height="319.3" fill="#FF0000" stroke="#000" stroke-width="3"/>
<line x1="1499.5" y1="1006.9" x2="1499.5" y2="1004.4" stroke="#000" stroke-width="4.8" stroke-linecap="butt"/>
<line x1="1491.4" y1="1004.4" x2="1507.6" y2="1004.4" stroke="#000" stroke-width="5" stroke-linecap="round"/>
<rect x="1565.8" y="1048.7" width="31.6" height="277.5" fill="#0000FF" stroke="#000" stroke-width="3"/>
<line x1="1581.6" y1="1048.7" x2="1581.6" y2="1033.4" stroke="#000" stroke-width="4.8" stroke-linecap="butt"/>
<line x1="1573.5" y1="1033.4" x2="1589.7" y2="1033.4" stroke="#000" stroke-width="5" stroke-linecap="round"/>
<rect x="1615.2" y="1084.3" width="31.6" height="241.9" fill="#FF0000" stroke="#000" stroke-width="3"/>
<line x1="1631" y1="1084.3" x2="1631" y2="1070.8" stroke="#000" stroke-width="4.8" stroke-linecap="butt"/>
<line x1="1622.9" y1="1070.8" x2="1639.1" y2="1070.8" stroke="#000" stroke-width="5" stroke-linecap="round"/>
<rect x="1697.3" y="1148.1" width="31.6" height="178.1" fill="#0000FF" stroke="#000" stroke-width="3"/>
<line x1="1713.1" y1="1148.1" x2="1713.1" y2="1119" stroke="#000" stroke-width="4.8" stroke-linecap="butt"/>
<line x1="1705" y1="1119" x2="1721.2" y2="1119" stroke="#000" stroke-width="5" stroke-linecap="round"/>
<rect x="1746.7" y="1278.1" width="31.6" height="48.1" fill="#FF0000" stroke="#000" stroke-width="3"/>
<line x1="1762.5" y1="1278.1" x2="1762.5" y2="1267.5" stroke="#000" stroke-width="4.8" stroke-linecap="butt"/>
<line x1="1754.4" y1="1267.5" x2="1770.6" y2="1267.5" stroke="#000" stroke-width="5" stroke-linecap="round"/>
<text x="1224.1" y="1206.49" font-size="22" font-weight="bold" textLength="294.24" lengthAdjust="spacingAndGlyphs" fill="#000" transform="rotate(-90 1224.1 1206.49)">OCR (pMoles/min./ ug prot.)</text>
<rect x="1300.2" y="766.8" width="35.8" height="12.3" fill="#0000FF" stroke="#000" stroke-width="3"/>
<text x="1356.41" y="780.6" font-size="21.7" textLength="90.67" lengthAdjust="spacing" fill="#000">Nupr1+/+</text>
<rect x="1300.2" y="796.6" width="35.8" height="12.3" fill="#FF0000" stroke="#000" stroke-width="3"/>
<text x="1356.41" y="810.7" font-size="21.7" textLength="79.01" lengthAdjust="spacing" fill="#000">Nupr1-/-</text>
<text x="1363.55" y="1217.39" font-size="28.5" textLength="11.07" lengthAdjust="spacing" fill="#000" stroke="#000" stroke-width="0.6" stroke-linejoin="round">*</text>
<text x="1488.15" y="982.59" font-size="28.5" textLength="23.25" lengthAdjust="spacing" fill="#000" stroke="#000" stroke-width="0.6" stroke-linejoin="round">**</text>
<text x="1758.45" y="1248.29" font-size="28.5" textLength="11.07" lengthAdjust="spacing" fill="#000" stroke="#000" stroke-width="0.6" stroke-linejoin="round">*</text>
<text x="21.69" y="1427" font-size="49.5" font-weight="bold" textLength="30.73" lengthAdjust="spacingAndGlyphs" fill="#000">E</text>
<line x1="105.3" y1="1450.4" x2="105.3" y2="1796.45" stroke="#000" stroke-width="3" stroke-linecap="round"/>
<line x1="94.1" y1="1796.45" x2="105.3" y2="1796.45" stroke="#000" stroke-width="3" stroke-linecap="butt"/>
<text x="80.52" y="1802.05" font-size="21.8" font-weight="bold" textLength="11.79" lengthAdjust="spacingAndGlyphs" fill="#000">1</text>
<line x1="94.1" y1="1681.1" x2="105.3" y2="1681.1" stroke="#000" stroke-width="3" stroke-linecap="butt"/>
<text x="80.73" y="1686.7" font-size="21.8" font-weight="bold" textLength="11.79" lengthAdjust="spacingAndGlyphs" fill="#000">2</text>
<line x1="94.1" y1="1565.75" x2="105.3" y2="1565.75" stroke="#000" stroke-width="3" stroke-linecap="butt"/>
<text x="80.68" y="1571.35" font-size="21.8" font-weight="bold" textLength="11.79" lengthAdjust="spacingAndGlyphs" fill="#000">3</text>
<line x1="94.1" y1="1450.4" x2="105.3" y2="1450.4" stroke="#000" stroke-width="3" stroke-linecap="butt"/>
<text x="80.04" y="1456" font-size="21.8" font-weight="bold" textLength="11.79" lengthAdjust="spacingAndGlyphs" fill="#000">4</text>
<line x1="94.1" y1="1796.45" x2="479.8" y2="1796.45" stroke="#000" stroke-width="3.2" stroke-linecap="butt"/>
<line x1="105.3" y1="1796.45" x2="105.3" y2="1807.45" stroke="#000" stroke-width="3" stroke-linecap="round"/>
<text x="99.42" y="1829.35" font-size="21.8" font-weight="bold" textLength="11.79" lengthAdjust="spacingAndGlyphs" fill="#000">0</text>
<line x1="180.2" y1="1796.45" x2="180.2" y2="1807.45" stroke="#000" stroke-width="3" stroke-linecap="round"/>
<text x="168.2" y="1829.35" font-size="21.8" font-weight="bold" textLength="23.58" lengthAdjust="spacingAndGlyphs" fill="#000">10</text>
<line x1="255.1" y1="1796.45" x2="255.1" y2="1807.45" stroke="#000" stroke-width="3" stroke-linecap="round"/>
<text x="243.39" y="1829.35" font-size="21.8" font-weight="bold" textLength="23.58" lengthAdjust="spacingAndGlyphs" fill="#000">20</text>
<line x1="330" y1="1796.45" x2="330" y2="1807.45" stroke="#000" stroke-width="3" stroke-linecap="round"/>
<text x="318.42" y="1829.35" font-size="21.8" font-weight="bold" textLength="23.58" lengthAdjust="spacingAndGlyphs" fill="#000">30</text>
<line x1="404.9" y1="1796.45" x2="404.9" y2="1807.45" stroke="#000" stroke-width="3" stroke-linecap="round"/>
<text x="393.4" y="1829.35" font-size="21.8" font-weight="bold" textLength="23.58" lengthAdjust="spacingAndGlyphs" fill="#000">40</text>
<line x1="479.8" y1="1796.45" x2="479.8" y2="1807.45" stroke="#000" stroke-width="3" stroke-linecap="round"/>
<text x="468.14" y="1829.35" font-size="21.8" font-weight="bold" textLength="23.58" lengthAdjust="spacingAndGlyphs" fill="#000">50</text>
<text x="212.88" y="1863.5" font-size="22" font-weight="bold" textLength="156.56" lengthAdjust="spacingAndGlyphs" fill="#000">Time (minutes)</text>
<text x="62.3" y="1786.18" font-size="22" font-weight="bold" textLength="313.98" lengthAdjust="spacingAndGlyphs" fill="#000" transform="rotate(-90 62.3 1786.18)">OCR (pMoles/min./ 1000 cells)</text>
<text x="281.7" y="1445.6" font-size="21.7" textLength="79.42" lengthAdjust="spacingAndGlyphs" fill="#000">UK5099</text>
<line x1="300.9" y1="1473.9" x2="300.9" y2="1796.95" stroke="#000" stroke-width="3.7" stroke-dasharray="0 10.35" stroke-linecap="round"/>
<polyline points="116.09,1734.16 180.42,1736.47 244.61,1736.47 310.53,1743.39 375.69,1742.24 440.1,1743.39" fill="none" stroke="#FF0000" stroke-width="3.4" stroke-linejoin="round"/>
<rect x="109.19" y="1727.26" width="13.8" height="13.8" fill="#FF0000"/>
<line x1="180.42" y1="1728.47" x2="180.42" y2="1744.47" stroke="#FF0000" stroke-width="3.5" stroke-linecap="butt"/>
<line x1="173.52" y1="1728.47" x2="187.32" y2="1728.47" stroke="#FF0000" stroke-width="4.8" stroke-linecap="round"/>
<line x1="173.52" y1="1744.47" x2="187.32" y2="1744.47" stroke="#FF0000" stroke-width="4.8" stroke-linecap="round"/>
<rect x="173.52" y="1729.57" width="13.8" height="13.8" fill="#FF0000"/>
<line x1="244.61" y1="1727.97" x2="244.61" y2="1744.97" stroke="#FF0000" stroke-width="3.5" stroke-linecap="butt"/>
<line x1="237.71" y1="1727.97" x2="251.51" y2="1727.97" stroke="#FF0000" stroke-width="4.8" stroke-linecap="round"/>
<line x1="237.71" y1="1744.97" x2="251.51" y2="1744.97" stroke="#FF0000" stroke-width="4.8" stroke-linecap="round"/>
<rect x="237.71" y="1729.57" width="13.8" height="13.8" fill="#FF0000"/>
<line x1="310.53" y1="1729.39" x2="310.53" y2="1757.39" stroke="#FF0000" stroke-width="3.5" stroke-linecap="butt"/>
<line x1="303.63" y1="1729.39" x2="317.43" y2="1729.39" stroke="#FF0000" stroke-width="4.8" stroke-linecap="round"/>
<line x1="303.63" y1="1757.39" x2="317.43" y2="1757.39" stroke="#FF0000" stroke-width="4.8" stroke-linecap="round"/>
<rect x="303.63" y="1736.49" width="13.8" height="13.8" fill="#FF0000"/>
<line x1="375.69" y1="1729.24" x2="375.69" y2="1755.24" stroke="#FF0000" stroke-width="3.5" stroke-linecap="butt"/>
<line x1="368.79" y1="1729.24" x2="382.59" y2="1729.24" stroke="#FF0000" stroke-width="4.8" stroke-linecap="round"/>
<line x1="368.79" y1="1755.24" x2="382.59" y2="1755.24" stroke="#FF0000" stroke-width="4.8" stroke-linecap="round"/>
<rect x="368.79" y="1735.34" width="13.8" height="13.8" fill="#FF0000"/>
<line x1="440.1" y1="1730.39" x2="440.1" y2="1756.39" stroke="#FF0000" stroke-width="3.5" stroke-linecap="butt"/>
<line x1="433.2" y1="1730.39" x2="447" y2="1730.39" stroke="#FF0000" stroke-width="4.8" stroke-linecap="round"/>
<line x1="433.2" y1="1756.39" x2="447" y2="1756.39" stroke="#FF0000" stroke-width="4.8" stroke-linecap="round"/>
<rect x="433.2" y="1736.49" width="13.8" height="13.8" fill="#FF0000"/>
<polyline points="116.09,1743.39 180.42,1754.92 244.61,1757.23 310.53,1765.31 375.69,1773.38 440.1,1774.53" fill="none" stroke="#FF8080" stroke-width="3.4" stroke-linejoin="round"/>
<polygon points="116.09,1736.19 123.19,1750.19 108.99,1750.19" fill="#FF8080"/>
<polygon points="180.42,1747.72 187.52,1761.72 173.32,1761.72" fill="#FF8080"/>
<line x1="244.61" y1="1747.73" x2="244.61" y2="1766.73" stroke="#FF8080" stroke-width="3.5" stroke-linecap="butt"/>
<line x1="237.71" y1="1747.73" x2="251.51" y2="1747.73" stroke="#FF8080" stroke-width="4.8" stroke-linecap="round"/>
<line x1="237.71" y1="1766.73" x2="251.51" y2="1766.73" stroke="#FF8080" stroke-width="4.8" stroke-linecap="round"/>
<polygon points="244.61,1750.03 251.71,1764.03 237.51,1764.03" fill="#FF8080"/>
<line x1="310.53" y1="1751.31" x2="310.53" y2="1779.31" stroke="#FF8080" stroke-width="3.5" stroke-linecap="butt"/>
<line x1="303.63" y1="1751.31" x2="317.43" y2="1751.31" stroke="#FF8080" stroke-width="4.8" stroke-linecap="round"/>
<line x1="303.63" y1="1779.31" x2="317.43" y2="1779.31" stroke="#FF8080" stroke-width="4.8" stroke-linecap="round"/>
<polygon points="310.53,1758.11 317.63,1772.11 303.43,1772.11" fill="#FF8080"/>
<line x1="375.69" y1="1755.88" x2="375.69" y2="1790.88" stroke="#FF8080" stroke-width="3.5" stroke-linecap="butt"/>
<line x1="368.79" y1="1755.88" x2="382.59" y2="1755.88" stroke="#FF8080" stroke-width="4.8" stroke-linecap="round"/>
<line x1="368.79" y1="1790.88" x2="382.59" y2="1790.88" stroke="#FF8080" stroke-width="4.8" stroke-linecap="round"/>
<polygon points="375.69,1766.18 382.79,1780.18 368.59,1780.18" fill="#FF8080"/>
<line x1="440.1" y1="1755.03" x2="440.1" y2="1794.03" stroke="#FF8080" stroke-width="3.5" stroke-linecap="butt"/>
<line x1="433.2" y1="1755.03" x2="447" y2="1755.03" stroke="#FF8080" stroke-width="4.8" stroke-linecap="round"/>
<line x1="433.2" y1="1794.03" x2="447" y2="1794.03" stroke="#FF8080" stroke-width="4.8" stroke-linecap="round"/>
<polygon points="440.1,1767.33 447.2,1781.33 433,1781.33" fill="#FF8080"/>
<polyline points="116.09,1537.6 180.42,1550.29 244.61,1553.06 310.53,1610.74 375.69,1595.74 440.1,1592.28" fill="none" stroke="#0000FF" stroke-width="3.4" stroke-linejoin="round"/>
<line x1="116.09" y1="1528.75" x2="116.09" y2="1546.45" stroke="#0000FF" stroke-width="3.5" stroke-linecap="butt"/>
<line x1="109.19" y1="1528.75" x2="122.99" y2="1528.75" stroke="#0000FF" stroke-width="4.8" stroke-linecap="round"/>
<line x1="109.19" y1="1546.45" x2="122.99" y2="1546.45" stroke="#0000FF" stroke-width="4.8" stroke-linecap="round"/>
<circle cx="116.09" cy="1537.6" r="6.8" fill="#0000FF"/>
<line x1="180.42" y1="1541.24" x2="180.42" y2="1559.34" stroke="#0000FF" stroke-width="3.5" stroke-linecap="butt"/>
<line x1="173.52" y1="1541.24" x2="187.32" y2="1541.24" stroke="#0000FF" stroke-width="4.8" stroke-linecap="round"/>
<line x1="173.52" y1="1559.34" x2="187.32" y2="1559.34" stroke="#0000FF" stroke-width="4.8" stroke-linecap="round"/>
<circle cx="180.42" cy="1550.29" r="6.8" fill="#0000FF"/>
<line x1="244.61" y1="1541.76" x2="244.61" y2="1564.36" stroke="#0000FF" stroke-width="3.5" stroke-linecap="butt"/>
<line x1="237.71" y1="1541.76" x2="251.51" y2="1541.76" stroke="#0000FF" stroke-width="4.8" stroke-linecap="round"/>
<line x1="237.71" y1="1564.36" x2="251.51" y2="1564.36" stroke="#0000FF" stroke-width="4.8" stroke-linecap="round"/>
<circle cx="244.61" cy="1553.06" r="6.8" fill="#0000FF"/>
<line x1="310.53" y1="1595.14" x2="310.53" y2="1626.34" stroke="#0000FF" stroke-width="3.5" stroke-linecap="butt"/>
<line x1="303.63" y1="1595.14" x2="317.43" y2="1595.14" stroke="#0000FF" stroke-width="4.8" stroke-linecap="round"/>
<line x1="303.63" y1="1626.34" x2="317.43" y2="1626.34" stroke="#0000FF" stroke-width="4.8" stroke-linecap="round"/>
<circle cx="310.53" cy="1610.74" r="6.8" fill="#0000FF"/>
<line x1="375.69" y1="1586.24" x2="375.69" y2="1605.24" stroke="#0000FF" stroke-width="3.5" stroke-linecap="butt"/>
<line x1="368.79" y1="1586.24" x2="382.59" y2="1586.24" stroke="#0000FF" stroke-width="4.8" stroke-linecap="round"/>
<line x1="368.79" y1="1605.24" x2="382.59" y2="1605.24" stroke="#0000FF" stroke-width="4.8" stroke-linecap="round"/>
<circle cx="375.69" cy="1595.74" r="6.8" fill="#0000FF"/>
<circle cx="440.1" cy="1592.28" r="6.8" fill="#0000FF"/>
<text x="306.25" y="1576.49" font-size="28.5" textLength="11.07" lengthAdjust="spacing" fill="#000" stroke="#000" stroke-width="0.6" stroke-linejoin="round">*</text>
<text x="370.65" y="1570.59" font-size="28.5" textLength="11.07" lengthAdjust="spacing" fill="#000" stroke="#000" stroke-width="0.6" stroke-linejoin="round">*</text>
<text x="437.95" y="1569.09" font-size="28.5" textLength="11.07" lengthAdjust="spacing" fill="#000" stroke="#000" stroke-width="0.6" stroke-linejoin="round">*</text>
<line x1="111.2" y1="1453.3" x2="147.8" y2="1453.3" stroke="#0000FF" stroke-width="3.4" stroke-linecap="round"/>
<circle cx="129.5" cy="1453.3" r="6.8" fill="#0000FF"/>
<text x="168.9" y="1462.2" font-size="21.7" textLength="49.96" lengthAdjust="spacing" fill="#000">siCtrl</text>
<line x1="111.2" y1="1479.2" x2="147.8" y2="1479.2" stroke="#FF0000" stroke-width="3.4" stroke-linecap="round"/>
<rect x="122.6" y="1472.3" width="13.8" height="13.8" fill="#FF0000"/>
<text x="168.9" y="1487.8" font-size="21.7" textLength="105.65" lengthAdjust="spacing" fill="#000">siNUPR1-1</text>
<line x1="111.2" y1="1505.4" x2="147.8" y2="1505.4" stroke="#FF8080" stroke-width="3.4" stroke-linecap="round"/>
<polygon points="129.5,1498.2 136.6,1512.2 122.4,1512.2" fill="#FF8080"/>
<text x="168.9" y="1513.4" font-size="21.7" textLength="108.01" lengthAdjust="spacing" fill="#000">siNUPR1-2</text>
<line x1="697.7" y1="1449.4" x2="697.7" y2="1795.45" stroke="#000" stroke-width="3" stroke-linecap="round"/>
<line x1="686.5" y1="1795.45" x2="697.7" y2="1795.45" stroke="#000" stroke-width="3" stroke-linecap="butt"/>
<text x="672.92" y="1801.05" font-size="21.8" font-weight="bold" textLength="11.79" lengthAdjust="spacingAndGlyphs" fill="#000">1</text>
<line x1="686.5" y1="1680.1" x2="697.7" y2="1680.1" stroke="#000" stroke-width="3" stroke-linecap="butt"/>
<text x="673.13" y="1685.7" font-size="21.8" font-weight="bold" textLength="11.79" lengthAdjust="spacingAndGlyphs" fill="#000">2</text>
<line x1="686.5" y1="1564.75" x2="697.7" y2="1564.75" stroke="#000" stroke-width="3" stroke-linecap="butt"/>
<text x="673.08" y="1570.35" font-size="21.8" font-weight="bold" textLength="11.79" lengthAdjust="spacingAndGlyphs" fill="#000">3</text>
<line x1="686.5" y1="1449.4" x2="697.7" y2="1449.4" stroke="#000" stroke-width="3" stroke-linecap="butt"/>
<text x="672.44" y="1455" font-size="21.8" font-weight="bold" textLength="11.79" lengthAdjust="spacingAndGlyphs" fill="#000">4</text>
<line x1="686.5" y1="1795.45" x2="1072.2" y2="1795.45" stroke="#000" stroke-width="3.2" stroke-linecap="butt"/>
<line x1="697.7" y1="1795.45" x2="697.7" y2="1806.45" stroke="#000" stroke-width="3" stroke-linecap="round"/>
<text x="691.82" y="1828.35" font-size="21.8" font-weight="bold" textLength="11.79" lengthAdjust="spacingAndGlyphs" fill="#000">0</text>
<line x1="772.6" y1="1795.45" x2="772.6" y2="1806.45" stroke="#000" stroke-width="3" stroke-linecap="round"/>
<text x="760.6" y="1828.35" font-size="21.8" font-weight="bold" textLength="23.58" lengthAdjust="spacingAndGlyphs" fill="#000">10</text>
<line x1="847.5" y1="1795.45" x2="847.5" y2="1806.45" stroke="#000" stroke-width="3" stroke-linecap="round"/>
<text x="835.79" y="1828.35" font-size="21.8" font-weight="bold" textLength="23.58" lengthAdjust="spacingAndGlyphs" fill="#000">20</text>
<line x1="922.4" y1="1795.45" x2="922.4" y2="1806.45" stroke="#000" stroke-width="3" stroke-linecap="round"/>
<text x="910.82" y="1828.35" font-size="21.8" font-weight="bold" textLength="23.58" lengthAdjust="spacingAndGlyphs" fill="#000">30</text>
<line x1="997.3" y1="1795.45" x2="997.3" y2="1806.45" stroke="#000" stroke-width="3" stroke-linecap="round"/>
<text x="985.8" y="1828.35" font-size="21.8" font-weight="bold" textLength="23.58" lengthAdjust="spacingAndGlyphs" fill="#000">40</text>
<line x1="1072.2" y1="1795.45" x2="1072.2" y2="1806.45" stroke="#000" stroke-width="3" stroke-linecap="round"/>
<text x="1060.54" y="1828.35" font-size="21.8" font-weight="bold" textLength="23.58" lengthAdjust="spacingAndGlyphs" fill="#000">50</text>
<text x="804.98" y="1863.5" font-size="22" font-weight="bold" textLength="158.57" lengthAdjust="spacingAndGlyphs" fill="#000">Time (minutes)</text>
<text x="655.8" y="1783.78" font-size="22" font-weight="bold" textLength="313.98" lengthAdjust="spacingAndGlyphs" fill="#000" transform="rotate(-90 655.8 1783.78)">OCR (pMoles/min./ 1000 cells)</text>
<text x="874.51" y="1447.8" font-size="21.7" textLength="71.24" lengthAdjust="spacingAndGlyphs" fill="#000">BPTES</text>
<line x1="893.9" y1="1472.9" x2="893.9" y2="1795.95" stroke="#000" stroke-width="3.7" stroke-dasharray="0 10.35" stroke-linecap="round"/>
<polyline points="708.49,1715.86 772.82,1725.09 837.01,1725.09 902.93,1723.93 968.09,1723.93 1032.5,1726.24" fill="none" stroke="#FF0000" stroke-width="3.4" stroke-linejoin="round"/>
<rect x="701.59" y="1708.96" width="13.8" height="13.8" fill="#FF0000"/>
<rect x="765.92" y="1718.19" width="13.8" height="13.8" fill="#FF0000"/>
<rect x="830.11" y="1718.19" width="13.8" height="13.8" fill="#FF0000"/>
<rect x="896.03" y="1717.03" width="13.8" height="13.8" fill="#FF0000"/>
<rect x="961.19" y="1717.03" width="13.8" height="13.8" fill="#FF0000"/>
<rect x="1025.6" y="1719.34" width="13.8" height="13.8" fill="#FF0000"/>
<polyline points="708.49,1734.31 772.82,1745.85 837.01,1749.31 902.93,1751.62 968.09,1753.92 1032.5,1751.62" fill="none" stroke="#FF8080" stroke-width="3.4" stroke-linejoin="round"/>
<line x1="708.49" y1="1722.61" x2="708.49" y2="1746.01" stroke="#FF8080" stroke-width="3.5" stroke-linecap="butt"/>
<line x1="701.59" y1="1722.61" x2="715.39" y2="1722.61" stroke="#FF8080" stroke-width="4.8" stroke-linecap="round"/>
<line x1="701.59" y1="1746.01" x2="715.39" y2="1746.01" stroke="#FF8080" stroke-width="4.8" stroke-linecap="round"/>
<polygon points="708.49,1727.11 715.59,1741.11 701.39,1741.11" fill="#FF8080"/>
<line x1="772.82" y1="1737.05" x2="772.82" y2="1754.65" stroke="#FF8080" stroke-width="3.5" stroke-linecap="butt"/>
<line x1="765.92" y1="1737.05" x2="779.72" y2="1737.05" stroke="#FF8080" stroke-width="4.8" stroke-linecap="round"/>
<line x1="765.92" y1="1754.65" x2="779.72" y2="1754.65" stroke="#FF8080" stroke-width="4.8" stroke-linecap="round"/>
<polygon points="772.82,1738.65 779.92,1752.65 765.72,1752.65" fill="#FF8080"/>
<polygon points="837.01,1742.11 844.11,1756.11 829.91,1756.11" fill="#FF8080"/>
<line x1="902.93" y1="1743.62" x2="902.93" y2="1759.62" stroke="#FF8080" stroke-width="3.5" stroke-linecap="butt"/>
<line x1="896.03" y1="1743.62" x2="909.83" y2="1743.62" stroke="#FF8080" stroke-width="4.8" stroke-linecap="round"/>
<line x1="896.03" y1="1759.62" x2="909.83" y2="1759.62" stroke="#FF8080" stroke-width="4.8" stroke-linecap="round"/>
<polygon points="902.93,1744.42 910.03,1758.42 895.83,1758.42" fill="#FF8080"/>
<polygon points="968.09,1746.72 975.19,1760.72 960.99,1760.72" fill="#FF8080"/>
<polygon points="1032.5,1744.42 1039.6,1758.42 1025.4,1758.42" fill="#FF8080"/>
<polyline points="708.49,1528.65 772.82,1542.83 837.01,1543.41 902.93,1587.82 968.09,1581.48 1032.5,1576.29" fill="none" stroke="#0000FF" stroke-width="3.4" stroke-linejoin="round"/>
<line x1="708.49" y1="1519.85" x2="708.49" y2="1537.45" stroke="#0000FF" stroke-width="3.5" stroke-linecap="butt"/>
<line x1="701.59" y1="1519.85" x2="715.39" y2="1519.85" stroke="#0000FF" stroke-width="4.8" stroke-linecap="round"/>
<line x1="701.59" y1="1537.45" x2="715.39" y2="1537.45" stroke="#0000FF" stroke-width="4.8" stroke-linecap="round"/>
<circle cx="708.49" cy="1528.65" r="6.8" fill="#0000FF"/>
<line x1="772.82" y1="1534.03" x2="772.82" y2="1551.63" stroke="#0000FF" stroke-width="3.5" stroke-linecap="butt"/>
<line x1="765.92" y1="1534.03" x2="779.72" y2="1534.03" stroke="#0000FF" stroke-width="4.8" stroke-linecap="round"/>
<line x1="765.92" y1="1551.63" x2="779.72" y2="1551.63" stroke="#0000FF" stroke-width="4.8" stroke-linecap="round"/>
<circle cx="772.82" cy="1542.83" r="6.8" fill="#0000FF"/>
<circle cx="837.01" cy="1543.41" r="6.8" fill="#0000FF"/>
<line x1="902.93" y1="1574.82" x2="902.93" y2="1600.82" stroke="#0000FF" stroke-width="3.5" stroke-linecap="butt"/>
<line x1="896.03" y1="1574.82" x2="909.83" y2="1574.82" stroke="#0000FF" stroke-width="4.8" stroke-linecap="round"/>
<line x1="896.03" y1="1600.82" x2="909.83" y2="1600.82" stroke="#0000FF" stroke-width="4.8" stroke-linecap="round"/>
<circle cx="902.93" cy="1587.82" r="6.8" fill="#0000FF"/>
<line x1="968.09" y1="1571.98" x2="968.09" y2="1590.98" stroke="#0000FF" stroke-width="3.5" stroke-linecap="butt"/>
<line x1="961.19" y1="1571.98" x2="974.99" y2="1571.98" stroke="#0000FF" stroke-width="4.8" stroke-linecap="round"/>
<line x1="961.19" y1="1590.98" x2="974.99" y2="1590.98" stroke="#0000FF" stroke-width="4.8" stroke-linecap="round"/>
<circle cx="968.09" cy="1581.48" r="6.8" fill="#0000FF"/>
<line x1="1032.5" y1="1567.69" x2="1032.5" y2="1584.88" stroke="#0000FF" stroke-width="3.5" stroke-linecap="butt"/>
<line x1="1025.6" y1="1567.69" x2="1039.4" y2="1567.69" stroke="#0000FF" stroke-width="4.8" stroke-linecap="round"/>
<line x1="1025.6" y1="1584.88" x2="1039.4" y2="1584.88" stroke="#0000FF" stroke-width="4.8" stroke-linecap="round"/>
<circle cx="1032.5" cy="1576.29" r="6.8" fill="#0000FF"/>
<text x="899.15" y="1563.59" font-size="28.5" textLength="11.07" lengthAdjust="spacing" fill="#000" stroke="#000" stroke-width="0.6" stroke-linejoin="round">*</text>
<text x="962.05" y="1563.59" font-size="28.5" textLength="11.07" lengthAdjust="spacing" fill="#000" stroke="#000" stroke-width="0.6" stroke-linejoin="round">*</text>
<text x="1027.35" y="1562.59" font-size="28.5" textLength="11.07" lengthAdjust="spacing" fill="#000" stroke="#000" stroke-width="0.6" stroke-linejoin="round">*</text>
<line x1="1277.7" y1="1450.2" x2="1277.7" y2="1796.25" stroke="#000" stroke-width="3" stroke-linecap="round"/>
<line x1="1266.5" y1="1796.25" x2="1277.7" y2="1796.25" stroke="#000" stroke-width="3" stroke-linecap="butt"/>
<text x="1252.92" y="1801.85" font-size="21.8" font-weight="bold" textLength="11.79" lengthAdjust="spacingAndGlyphs" fill="#000">1</text>
<line x1="1266.5" y1="1680.9" x2="1277.7" y2="1680.9" stroke="#000" stroke-width="3" stroke-linecap="butt"/>
<text x="1253.13" y="1686.5" font-size="21.8" font-weight="bold" textLength="11.79" lengthAdjust="spacingAndGlyphs" fill="#000">2</text>
<line x1="1266.5" y1="1565.55" x2="1277.7" y2="1565.55" stroke="#000" stroke-width="3" stroke-linecap="butt"/>
<text x="1253.08" y="1571.15" font-size="21.8" font-weight="bold" textLength="11.79" lengthAdjust="spacingAndGlyphs" fill="#000">3</text>
<line x1="1266.5" y1="1450.2" x2="1277.7" y2="1450.2" stroke="#000" stroke-width="3" stroke-linecap="butt"/>
<text x="1252.44" y="1455.8" font-size="21.8" font-weight="bold" textLength="11.79" lengthAdjust="spacingAndGlyphs" fill="#000">4</text>
<line x1="1266.5" y1="1796.25" x2="1652.2" y2="1796.25" stroke="#000" stroke-width="3.2" stroke-linecap="butt"/>
<line x1="1277.7" y1="1796.25" x2="1277.7" y2="1807.25" stroke="#000" stroke-width="3" stroke-linecap="round"/>
<text x="1271.82" y="1829.15" font-size="21.8" font-weight="bold" textLength="11.79" lengthAdjust="spacingAndGlyphs" fill="#000">0</text>
<line x1="1352.6" y1="1796.25" x2="1352.6" y2="1807.25" stroke="#000" stroke-width="3" stroke-linecap="round"/>
<text x="1340.6" y="1829.15" font-size="21.8" font-weight="bold" textLength="23.58" lengthAdjust="spacingAndGlyphs" fill="#000">10</text>
<line x1="1427.5" y1="1796.25" x2="1427.5" y2="1807.25" stroke="#000" stroke-width="3" stroke-linecap="round"/>
<text x="1415.79" y="1829.15" font-size="21.8" font-weight="bold" textLength="23.58" lengthAdjust="spacingAndGlyphs" fill="#000">20</text>
<line x1="1502.4" y1="1796.25" x2="1502.4" y2="1807.25" stroke="#000" stroke-width="3" stroke-linecap="round"/>
<text x="1490.82" y="1829.15" font-size="21.8" font-weight="bold" textLength="23.58" lengthAdjust="spacingAndGlyphs" fill="#000">30</text>
<line x1="1577.3" y1="1796.25" x2="1577.3" y2="1807.25" stroke="#000" stroke-width="3" stroke-linecap="round"/>
<text x="1565.8" y="1829.15" font-size="21.8" font-weight="bold" textLength="23.58" lengthAdjust="spacingAndGlyphs" fill="#000">40</text>
<line x1="1652.2" y1="1796.25" x2="1652.2" y2="1807.25" stroke="#000" stroke-width="3" stroke-linecap="round"/>
<text x="1640.54" y="1829.15" font-size="21.8" font-weight="bold" textLength="23.58" lengthAdjust="spacingAndGlyphs" fill="#000">50</text>
<text x="1384.98" y="1863.5" font-size="22" font-weight="bold" textLength="158.57" lengthAdjust="spacingAndGlyphs" fill="#000">Time (minutes)</text>
<text x="1235.8" y="1784.68" font-size="22" font-weight="bold" textLength="313.98" lengthAdjust="spacingAndGlyphs" fill="#000" transform="rotate(-90 1235.8 1784.68)">OCR (pMoles/min./ 1000 cells)</text>
<text x="1454.52" y="1448.7" font-size="21.7" textLength="85.21" lengthAdjust="spacingAndGlyphs" fill="#000">Etomoxir</text>
<line x1="1473.6" y1="1473.7" x2="1473.6" y2="1796.75" stroke="#000" stroke-width="3.7" stroke-dasharray="0 10.35" stroke-linecap="round"/>
<polyline points="1288.49,1717.81 1352.82,1723.58 1417.01,1723.58 1482.93,1725.89 1548.09,1723.58 1612.5,1722.43" fill="none" stroke="#FF0000" stroke-width="3.4" stroke-linejoin="round"/>
<line x1="1288.49" y1="1710.01" x2="1288.49" y2="1725.61" stroke="#FF0000" stroke-width="3.5" stroke-linecap="butt"/>
<line x1="1281.59" y1="1710.01" x2="1295.39" y2="1710.01" stroke="#FF0000" stroke-width="4.8" stroke-linecap="round"/>
<line x1="1281.59" y1="1725.61" x2="1295.39" y2="1725.61" stroke="#FF0000" stroke-width="4.8" stroke-linecap="round"/>
<rect x="1281.59" y="1710.91" width="13.8" height="13.8" fill="#FF0000"/>
<line x1="1352.82" y1="1715.58" x2="1352.82" y2="1731.58" stroke="#FF0000" stroke-width="3.5" stroke-linecap="butt"/>
<line x1="1345.92" y1="1715.58" x2="1359.72" y2="1715.58" stroke="#FF0000" stroke-width="4.8" stroke-linecap="round"/>
<line x1="1345.92" y1="1731.58" x2="1359.72" y2="1731.58" stroke="#FF0000" stroke-width="4.8" stroke-linecap="round"/>
<rect x="1345.92" y="1716.68" width="13.8" height="13.8" fill="#FF0000"/>
<line x1="1417.01" y1="1713.18" x2="1417.01" y2="1733.98" stroke="#FF0000" stroke-width="3.5" stroke-linecap="butt"/>
<line x1="1410.11" y1="1713.18" x2="1423.91" y2="1713.18" stroke="#FF0000" stroke-width="4.8" stroke-linecap="round"/>
<line x1="1410.11" y1="1733.98" x2="1423.91" y2="1733.98" stroke="#FF0000" stroke-width="4.8" stroke-linecap="round"/>
<rect x="1410.11" y="1716.68" width="13.8" height="13.8" fill="#FF0000"/>
<line x1="1482.93" y1="1712.39" x2="1482.93" y2="1739.39" stroke="#FF0000" stroke-width="3.5" stroke-linecap="butt"/>
<line x1="1476.03" y1="1712.39" x2="1489.83" y2="1712.39" stroke="#FF0000" stroke-width="4.8" stroke-linecap="round"/>
<line x1="1476.03" y1="1739.39" x2="1489.83" y2="1739.39" stroke="#FF0000" stroke-width="4.8" stroke-linecap="round"/>
<rect x="1476.03" y="1718.99" width="13.8" height="13.8" fill="#FF0000"/>
<line x1="1548.09" y1="1709.58" x2="1548.09" y2="1737.58" stroke="#FF0000" stroke-width="3.5" stroke-linecap="butt"/>
<line x1="1541.19" y1="1709.58" x2="1554.99" y2="1709.58" stroke="#FF0000" stroke-width="4.8" stroke-linecap="round"/>
<line x1="1541.19" y1="1737.58" x2="1554.99" y2="1737.58" stroke="#FF0000" stroke-width="4.8" stroke-linecap="round"/>
<rect x="1541.19" y="1716.68" width="13.8" height="13.8" fill="#FF0000"/>
<line x1="1612.5" y1="1705.63" x2="1612.5" y2="1739.23" stroke="#FF0000" stroke-width="3.5" stroke-linecap="butt"/>
<line x1="1605.6" y1="1705.63" x2="1619.4" y2="1705.63" stroke="#FF0000" stroke-width="4.8" stroke-linecap="round"/>
<line x1="1605.6" y1="1739.23" x2="1619.4" y2="1739.23" stroke="#FF0000" stroke-width="4.8" stroke-linecap="round"/>
<rect x="1605.6" y="1715.53" width="13.8" height="13.8" fill="#FF0000"/>
<polyline points="1288.49,1744.34 1352.82,1742.04 1417.01,1742.04 1482.93,1743.19 1548.09,1745.5 1612.5,1745.5" fill="none" stroke="#FF8080" stroke-width="3.4" stroke-linejoin="round"/>
<line x1="1288.49" y1="1735.14" x2="1288.49" y2="1753.54" stroke="#FF8080" stroke-width="3.5" stroke-linecap="butt"/>
<line x1="1281.59" y1="1735.14" x2="1295.39" y2="1735.14" stroke="#FF8080" stroke-width="4.8" stroke-linecap="round"/>
<line x1="1281.59" y1="1753.54" x2="1295.39" y2="1753.54" stroke="#FF8080" stroke-width="4.8" stroke-linecap="round"/>
<polygon points="1288.49,1737.14 1295.59,1751.14 1281.39,1751.14" fill="#FF8080"/>
<line x1="1352.82" y1="1734.24" x2="1352.82" y2="1749.84" stroke="#FF8080" stroke-width="3.5" stroke-linecap="butt"/>
<line x1="1345.92" y1="1734.24" x2="1359.72" y2="1734.24" stroke="#FF8080" stroke-width="4.8" stroke-linecap="round"/>
<line x1="1345.92" y1="1749.84" x2="1359.72" y2="1749.84" stroke="#FF8080" stroke-width="4.8" stroke-linecap="round"/>
<polygon points="1352.82,1734.84 1359.92,1748.84 1345.72,1748.84" fill="#FF8080"/>
<line x1="1417.01" y1="1736.54" x2="1417.01" y2="1747.54" stroke="#FF8080" stroke-width="3.5" stroke-linecap="butt"/>
<line x1="1410.11" y1="1736.54" x2="1423.91" y2="1736.54" stroke="#FF8080" stroke-width="4.8" stroke-linecap="round"/>
<line x1="1410.11" y1="1747.54" x2="1423.91" y2="1747.54" stroke="#FF8080" stroke-width="4.8" stroke-linecap="round"/>
<polygon points="1417.01,1734.84 1424.11,1748.84 1409.91,1748.84" fill="#FF8080"/>
<line x1="1482.93" y1="1735.89" x2="1482.93" y2="1750.49" stroke="#FF8080" stroke-width="3.5" stroke-linecap="butt"/>
<line x1="1476.03" y1="1735.89" x2="1489.83" y2="1735.89" stroke="#FF8080" stroke-width="4.8" stroke-linecap="round"/>
<line x1="1476.03" y1="1750.49" x2="1489.83" y2="1750.49" stroke="#FF8080" stroke-width="4.8" stroke-linecap="round"/>
<polygon points="1482.93,1735.99 1490.03,1749.99 1475.83,1749.99" fill="#FF8080"/>
<line x1="1548.09" y1="1738.5" x2="1548.09" y2="1752.5" stroke="#FF8080" stroke-width="3.5" stroke-linecap="butt"/>
<line x1="1541.19" y1="1738.5" x2="1554.99" y2="1738.5" stroke="#FF8080" stroke-width="4.8" stroke-linecap="round"/>
<line x1="1541.19" y1="1752.5" x2="1554.99" y2="1752.5" stroke="#FF8080" stroke-width="4.8" stroke-linecap="round"/>
<polygon points="1548.09,1738.3 1555.19,1752.3 1540.99,1752.3" fill="#FF8080"/>
<polygon points="1612.5,1738.3 1619.6,1752.3 1605.4,1752.3" fill="#FF8080"/>
<polyline points="1288.49,1525.18 1352.82,1536.71 1417.01,1542.48 1482.93,1597.85 1548.09,1590.93 1612.5,1589.77" fill="none" stroke="#0000FF" stroke-width="3.4" stroke-linejoin="round"/>
<line x1="1288.49" y1="1515.38" x2="1288.49" y2="1534.98" stroke="#0000FF" stroke-width="3.5" stroke-linecap="butt"/>
<line x1="1281.59" y1="1515.38" x2="1295.39" y2="1515.38" stroke="#0000FF" stroke-width="4.8" stroke-linecap="round"/>
<line x1="1281.59" y1="1534.98" x2="1295.39" y2="1534.98" stroke="#0000FF" stroke-width="4.8" stroke-linecap="round"/>
<circle cx="1288.49" cy="1525.18" r="6.8" fill="#0000FF"/>
<circle cx="1352.82" cy="1536.71" r="6.8" fill="#0000FF"/>
<circle cx="1417.01" cy="1542.48" r="6.8" fill="#0000FF"/>
<line x1="1482.93" y1="1587.65" x2="1482.93" y2="1608.05" stroke="#0000FF" stroke-width="3.5" stroke-linecap="butt"/>
<line x1="1476.03" y1="1587.65" x2="1489.83" y2="1587.65" stroke="#0000FF" stroke-width="4.8" stroke-linecap="round"/>
<line x1="1476.03" y1="1608.05" x2="1489.83" y2="1608.05" stroke="#0000FF" stroke-width="4.8" stroke-linecap="round"/>
<circle cx="1482.93" cy="1597.85" r="6.8" fill="#0000FF"/>
<circle cx="1548.09" cy="1590.93" r="6.8" fill="#0000FF"/>
<circle cx="1612.5" cy="1589.77" r="6.8" fill="#0000FF"/>
<text x="1477.65" y="1566.59" font-size="28.5" textLength="11.07" lengthAdjust="spacing" fill="#000" stroke="#000" stroke-width="0.6" stroke-linejoin="round">*</text>
<text x="1538.35" y="1566.59" font-size="28.5" textLength="23.25" lengthAdjust="spacing" fill="#000" stroke="#000" stroke-width="0.6" stroke-linejoin="round">**</text>
<text x="1602.75" y="1564.59" font-size="28.5" textLength="23.25" lengthAdjust="spacing" fill="#000" stroke="#000" stroke-width="0.6" stroke-linejoin="round">**</text>
<text x="21.69" y="1979.6" font-size="49.5" font-weight="bold" textLength="28.17" lengthAdjust="spacingAndGlyphs" fill="#000">F</text>
<text x="123.15" y="1997.7" font-size="28.8" font-weight="bold" textLength="81.8" lengthAdjust="spacingAndGlyphs" fill="#000">PDHA</text>
<line x1="105.4" y1="2010.1" x2="105.4" y2="2281.7" stroke="#000" stroke-width="3" stroke-linecap="butt"/>
<line x1="93.5" y1="2010.1" x2="276.6" y2="2010.1" stroke="#000" stroke-width="3.2" stroke-linecap="round"/>
<line x1="93.5" y1="2281.7" x2="276.6" y2="2281.7" stroke="#000" stroke-width="3.2" stroke-linecap="round"/>
<line x1="93.5" y1="2010.1" x2="105.4" y2="2010.1" stroke="#000" stroke-width="3" stroke-linecap="butt"/>
<text x="62.28" y="2016.2" font-size="21.8" font-weight="bold" textLength="29.47" lengthAdjust="spacingAndGlyphs" fill="#000">0.0</text>
<line x1="93.5" y1="2064.42" x2="105.4" y2="2064.42" stroke="#000" stroke-width="3" stroke-linecap="butt"/>
<text x="55.18" y="2070.52" font-size="21.8" font-weight="bold" textLength="36.53" lengthAdjust="spacingAndGlyphs" fill="#000">-0.2</text>
<line x1="93.5" y1="2118.74" x2="105.4" y2="2118.74" stroke="#000" stroke-width="3" stroke-linecap="butt"/>
<text x="54.49" y="2124.84" font-size="21.8" font-weight="bold" textLength="36.53" lengthAdjust="spacingAndGlyphs" fill="#000">-0.4</text>
<line x1="93.5" y1="2173.06" x2="105.4" y2="2173.06" stroke="#000" stroke-width="3" stroke-linecap="butt"/>
<text x="55.13" y="2179.16" font-size="21.8" font-weight="bold" textLength="36.53" lengthAdjust="spacingAndGlyphs" fill="#000">-0.6</text>
<line x1="93.5" y1="2227.38" x2="105.4" y2="2227.38" stroke="#000" stroke-width="3" stroke-linecap="butt"/>
<text x="55.02" y="2233.48" font-size="21.8" font-weight="bold" textLength="36.53" lengthAdjust="spacingAndGlyphs" fill="#000">-0.8</text>
<line x1="93.5" y1="2281.7" x2="105.4" y2="2281.7" stroke="#000" stroke-width="3" stroke-linecap="butt"/>
<text x="55.23" y="2287.8" font-size="21.8" font-weight="bold" textLength="36.53" lengthAdjust="spacingAndGlyphs" fill="#000">-1.0</text>
<line x1="133.8" y1="2281.7" x2="133.8" y2="2297.7" stroke="#000" stroke-width="3" stroke-linecap="butt"/>
<line x1="190.2" y1="2281.7" x2="190.2" y2="2297.7" stroke="#000" stroke-width="3" stroke-linecap="butt"/>
<line x1="247.1" y1="2281.7" x2="247.1" y2="2297.7" stroke="#000" stroke-width="3" stroke-linecap="butt"/>
<rect x="171.7" y="2010.1" width="37" height="114.2" fill="#FF0000" stroke="#000" stroke-width="3"/>
<line x1="190.2" y1="2124.3" x2="190.2" y2="2143.7" stroke="#000" stroke-width="4.8" stroke-linecap="butt"/>
<line x1="181.1" y1="2143.7" x2="199.3" y2="2143.7" stroke="#000" stroke-width="5" stroke-linecap="round"/>
<rect x="228.6" y="2010.1" width="37.2" height="191.4" fill="#FF8080" stroke="#000" stroke-width="3"/>
<line x1="247.2" y1="2201.5" x2="247.2" y2="2228.5" stroke="#000" stroke-width="4.8" stroke-linecap="butt"/>
<line x1="238.1" y1="2228.5" x2="256.3" y2="2228.5" stroke="#000" stroke-width="5" stroke-linecap="round"/>
<text x="185.35" y="2188.49" font-size="28.5" textLength="11.07" lengthAdjust="spacing" fill="#000" stroke="#000" stroke-width="0.6" stroke-linejoin="round">*</text>
<text x="242.15" y="2272.59" font-size="28.5" textLength="11.07" lengthAdjust="spacing" fill="#000" stroke="#000" stroke-width="0.6" stroke-linejoin="round">*</text>
<text x="36" y="2290.29" font-size="22" font-weight="bold" textLength="278.5" lengthAdjust="spacingAndGlyphs" fill="#000" transform="rotate(-90 36 2290.29)">qPCR Log 2 (Fold change)</text>
<text x="526.34" y="1997.2" font-size="28.8" font-weight="bold" textLength="38.74" lengthAdjust="spacingAndGlyphs" fill="#000">FH</text>
<line x1="488" y1="2009.6" x2="488" y2="2281" stroke="#000" stroke-width="3" stroke-linecap="butt"/>
<line x1="476.9" y1="2009.6" x2="658.7" y2="2009.6" stroke="#000" stroke-width="3.2" stroke-linecap="round"/>
<line x1="476.9" y1="2281" x2="658.7" y2="2281" stroke="#000" stroke-width="3.2" stroke-linecap="round"/>
<line x1="476.9" y1="2009.6" x2="488" y2="2009.6" stroke="#000" stroke-width="3" stroke-linecap="butt"/>
<text x="444.38" y="2015.7" font-size="21.8" font-weight="bold" textLength="29.47" lengthAdjust="spacingAndGlyphs" fill="#000">0.0</text>
<line x1="476.9" y1="2063.88" x2="488" y2="2063.88" stroke="#000" stroke-width="3" stroke-linecap="butt"/>
<text x="437.07" y="2069.98" font-size="21.8" font-weight="bold" textLength="36.53" lengthAdjust="spacingAndGlyphs" fill="#000">-0.5</text>
<line x1="476.9" y1="2118.16" x2="488" y2="2118.16" stroke="#000" stroke-width="3" stroke-linecap="butt"/>
<text x="437.33" y="2124.26" font-size="21.8" font-weight="bold" textLength="36.53" lengthAdjust="spacingAndGlyphs" fill="#000">-1.0</text>
<line x1="476.9" y1="2172.44" x2="488" y2="2172.44" stroke="#000" stroke-width="3" stroke-linecap="butt"/>
<text x="437.07" y="2178.54" font-size="21.8" font-weight="bold" textLength="36.53" lengthAdjust="spacingAndGlyphs" fill="#000">-1.5</text>
<line x1="476.9" y1="2226.72" x2="488" y2="2226.72" stroke="#000" stroke-width="3" stroke-linecap="butt"/>
<text x="437.33" y="2232.82" font-size="21.8" font-weight="bold" textLength="36.53" lengthAdjust="spacingAndGlyphs" fill="#000">-2.0</text>
<line x1="476.9" y1="2281" x2="488" y2="2281" stroke="#000" stroke-width="3" stroke-linecap="butt"/>
<text x="437.07" y="2287.1" font-size="21.8" font-weight="bold" textLength="36.53" lengthAdjust="spacingAndGlyphs" fill="#000">-2.5</text>
<line x1="515.9" y1="2281" x2="515.9" y2="2297" stroke="#000" stroke-width="3" stroke-linecap="butt"/>
<line x1="572.3" y1="2281" x2="572.3" y2="2297" stroke="#000" stroke-width="3" stroke-linecap="butt"/>
<line x1="629.2" y1="2281" x2="629.2" y2="2297" stroke="#000" stroke-width="3" stroke-linecap="butt"/>
<rect x="554.1" y="2009.6" width="37.1" height="157" fill="#FF0000" stroke="#000" stroke-width="3"/>
<line x1="572.65" y1="2166.6" x2="572.65" y2="2188.3" stroke="#000" stroke-width="4.8" stroke-linecap="butt"/>
<line x1="563.55" y1="2188.3" x2="581.75" y2="2188.3" stroke="#000" stroke-width="5" stroke-linecap="round"/>
<rect x="610.7" y="2009.6" width="37.3" height="144.7" fill="#FF8080" stroke="#000" stroke-width="3"/>
<line x1="629.35" y1="2154.3" x2="629.35" y2="2180.2" stroke="#000" stroke-width="4.8" stroke-linecap="butt"/>
<line x1="620.25" y1="2180.2" x2="638.45" y2="2180.2" stroke="#000" stroke-width="5" stroke-linecap="round"/>
<text x="571.35" y="2236.89" font-size="28.5" textLength="11.07" lengthAdjust="spacing" fill="#000" stroke="#000" stroke-width="0.6" stroke-linejoin="round">*</text>
<text x="627.25" y="2224.59" font-size="28.5" textLength="11.07" lengthAdjust="spacing" fill="#000" stroke="#000" stroke-width="0.6" stroke-linejoin="round">*</text>
<text x="888.44" y="1990.6" font-size="28.8" font-weight="bold" textLength="81.51" lengthAdjust="spacingAndGlyphs" fill="#000">SDHA</text>
<line x1="870.4" y1="2002.5" x2="870.4" y2="2274.4" stroke="#000" stroke-width="3" stroke-linecap="butt"/>
<line x1="859" y1="2002.5" x2="1041.6" y2="2002.5" stroke="#000" stroke-width="3.2" stroke-linecap="round"/>
<line x1="859" y1="2274.4" x2="1041.6" y2="2274.4" stroke="#000" stroke-width="3.2" stroke-linecap="round"/>
<line x1="859" y1="2002.5" x2="870.4" y2="2002.5" stroke="#000" stroke-width="3" stroke-linecap="butt"/>
<text x="827.78" y="2008.6" font-size="21.8" font-weight="bold" textLength="29.47" lengthAdjust="spacingAndGlyphs" fill="#000">0.0</text>
<line x1="859" y1="2056.88" x2="870.4" y2="2056.88" stroke="#000" stroke-width="3" stroke-linecap="butt"/>
<text x="820.68" y="2062.98" font-size="21.8" font-weight="bold" textLength="36.53" lengthAdjust="spacingAndGlyphs" fill="#000">-0.2</text>
<line x1="859" y1="2111.26" x2="870.4" y2="2111.26" stroke="#000" stroke-width="3" stroke-linecap="butt"/>
<text x="819.99" y="2117.36" font-size="21.8" font-weight="bold" textLength="36.53" lengthAdjust="spacingAndGlyphs" fill="#000">-0.4</text>
<line x1="859" y1="2165.64" x2="870.4" y2="2165.64" stroke="#000" stroke-width="3" stroke-linecap="butt"/>
<text x="820.62" y="2171.74" font-size="21.8" font-weight="bold" textLength="36.53" lengthAdjust="spacingAndGlyphs" fill="#000">-0.6</text>
<line x1="859" y1="2220.02" x2="870.4" y2="2220.02" stroke="#000" stroke-width="3" stroke-linecap="butt"/>
<text x="820.52" y="2226.12" font-size="21.8" font-weight="bold" textLength="36.53" lengthAdjust="spacingAndGlyphs" fill="#000">-0.8</text>
<line x1="859" y1="2274.4" x2="870.4" y2="2274.4" stroke="#000" stroke-width="3" stroke-linecap="butt"/>
<text x="820.73" y="2280.5" font-size="21.8" font-weight="bold" textLength="36.53" lengthAdjust="spacingAndGlyphs" fill="#000">-1.0</text>
<line x1="898.6" y1="2274.4" x2="898.6" y2="2290.4" stroke="#000" stroke-width="3" stroke-linecap="butt"/>
<line x1="955.2" y1="2274.4" x2="955.2" y2="2290.4" stroke="#000" stroke-width="3" stroke-linecap="butt"/>
<line x1="1012.4" y1="2274.4" x2="1012.4" y2="2290.4" stroke="#000" stroke-width="3" stroke-linecap="butt"/>
<rect x="936.7" y="2002.5" width="37.3" height="196.6" fill="#FF0000" stroke="#000" stroke-width="3"/>
<line x1="955.35" y1="2199.1" x2="955.35" y2="2243.3" stroke="#000" stroke-width="4.8" stroke-linecap="butt"/>
<line x1="946.25" y1="2243.3" x2="964.45" y2="2243.3" stroke="#000" stroke-width="5" stroke-linecap="round"/>
<rect x="993.7" y="2002.5" width="37" height="115.6" fill="#FF8080" stroke="#000" stroke-width="3"/>
<line x1="1012.2" y1="2118.1" x2="1012.2" y2="2125.5" stroke="#000" stroke-width="4.8" stroke-linecap="butt"/>
<line x1="1003.1" y1="2125.5" x2="1021.3" y2="2125.5" stroke="#000" stroke-width="5" stroke-linecap="round"/>
<text x="952.55" y="2274.99" font-size="28.5" textLength="11.07" lengthAdjust="spacing" fill="#000" stroke="#000" stroke-width="0.6" stroke-linejoin="round">*</text>
<text x="1003.05" y="2169.69" font-size="28.5" textLength="23.25" lengthAdjust="spacing" fill="#000" stroke="#000" stroke-width="0.6" stroke-linejoin="round">**</text>
<text x="1270.3" y="1995.1" font-size="28.8" font-weight="bold" textLength="64.08" lengthAdjust="spacingAndGlyphs" fill="#000">IDH2</text>
<line x1="1235.3" y1="2009.6" x2="1235.3" y2="2282.3" stroke="#000" stroke-width="3" stroke-linecap="butt"/>
<line x1="1224.3" y1="2009.6" x2="1406" y2="2009.6" stroke="#000" stroke-width="3.2" stroke-linecap="round"/>
<line x1="1224.3" y1="2282.3" x2="1406" y2="2282.3" stroke="#000" stroke-width="3.2" stroke-linecap="round"/>
<line x1="1224.3" y1="2009.6" x2="1235.3" y2="2009.6" stroke="#000" stroke-width="3" stroke-linecap="butt"/>
<text x="1209.08" y="2015.7" font-size="21.8" font-weight="bold" textLength="11.79" lengthAdjust="spacingAndGlyphs" fill="#000">0</text>
<line x1="1224.3" y1="2077.78" x2="1235.3" y2="2077.78" stroke="#000" stroke-width="3" stroke-linecap="butt"/>
<text x="1201.77" y="2083.88" font-size="21.8" font-weight="bold" textLength="18.85" lengthAdjust="spacingAndGlyphs" fill="#000">-1</text>
<line x1="1224.3" y1="2145.95" x2="1235.3" y2="2145.95" stroke="#000" stroke-width="3" stroke-linecap="butt"/>
<text x="1201.98" y="2152.05" font-size="21.8" font-weight="bold" textLength="18.85" lengthAdjust="spacingAndGlyphs" fill="#000">-2</text>
<line x1="1224.3" y1="2214.12" x2="1235.3" y2="2214.12" stroke="#000" stroke-width="3" stroke-linecap="butt"/>
<text x="1201.93" y="2220.22" font-size="21.8" font-weight="bold" textLength="18.85" lengthAdjust="spacingAndGlyphs" fill="#000">-3</text>
<line x1="1224.3" y1="2282.3" x2="1235.3" y2="2282.3" stroke="#000" stroke-width="3" stroke-linecap="butt"/>
<text x="1201.29" y="2288.4" font-size="21.8" font-weight="bold" textLength="18.85" lengthAdjust="spacingAndGlyphs" fill="#000">-4</text>
<line x1="1263.8" y1="2282.3" x2="1263.8" y2="2298.3" stroke="#000" stroke-width="3" stroke-linecap="butt"/>
<line x1="1320.2" y1="2282.3" x2="1320.2" y2="2298.3" stroke="#000" stroke-width="3" stroke-linecap="butt"/>
<line x1="1376.3" y1="2282.3" x2="1376.3" y2="2298.3" stroke="#000" stroke-width="3" stroke-linecap="butt"/>
<rect x="1301" y="2009.6" width="37.4" height="169.6" fill="#FF0000" stroke="#000" stroke-width="3"/>
<line x1="1319.7" y1="2179.2" x2="1319.7" y2="2202.3" stroke="#000" stroke-width="4.8" stroke-linecap="butt"/>
<line x1="1310.6" y1="2202.3" x2="1328.8" y2="2202.3" stroke="#000" stroke-width="5" stroke-linecap="round"/>
<rect x="1358.6" y="2009.6" width="36.7" height="96.8" fill="#FF8080" stroke="#000" stroke-width="3"/>
<line x1="1376.95" y1="2106.4" x2="1376.95" y2="2116.9" stroke="#000" stroke-width="4.8" stroke-linecap="butt"/>
<line x1="1367.85" y1="2116.9" x2="1386.05" y2="2116.9" stroke="#000" stroke-width="5" stroke-linecap="round"/>
<text x="1316.65" y="2235.69" font-size="28.5" textLength="11.07" lengthAdjust="spacing" fill="#000" stroke="#000" stroke-width="0.6" stroke-linejoin="round">*</text>
<text x="1368.65" y="2155.99" font-size="28.5" textLength="23.25" lengthAdjust="spacing" fill="#000" stroke="#000" stroke-width="0.6" stroke-linejoin="round">**</text>
<rect x="1470.6" y="2023.3" width="36.6" height="13.5" fill="#0000FF" stroke="#000" stroke-width="3"/>
<text x="1528.2" y="2039" font-size="21.7" textLength="50.76" lengthAdjust="spacing" fill="#000">siCtrl</text>
<rect x="1470.6" y="2056.4" width="36.6" height="13.5" fill="#FF0000" stroke="#000" stroke-width="3"/>
<text x="1528.2" y="2072" font-size="21.7" textLength="106.05" lengthAdjust="spacing" fill="#000">siNUPR1-1</text>
<rect x="1470.6" y="2089.5" width="36.6" height="13.5" fill="#FF8080" stroke="#000" stroke-width="3"/>
<text x="1528.2" y="2104.7" font-size="21.7" textLength="108.41" lengthAdjust="spacing" fill="#000">siNUPR1-2</text>
</svg></body></html>
